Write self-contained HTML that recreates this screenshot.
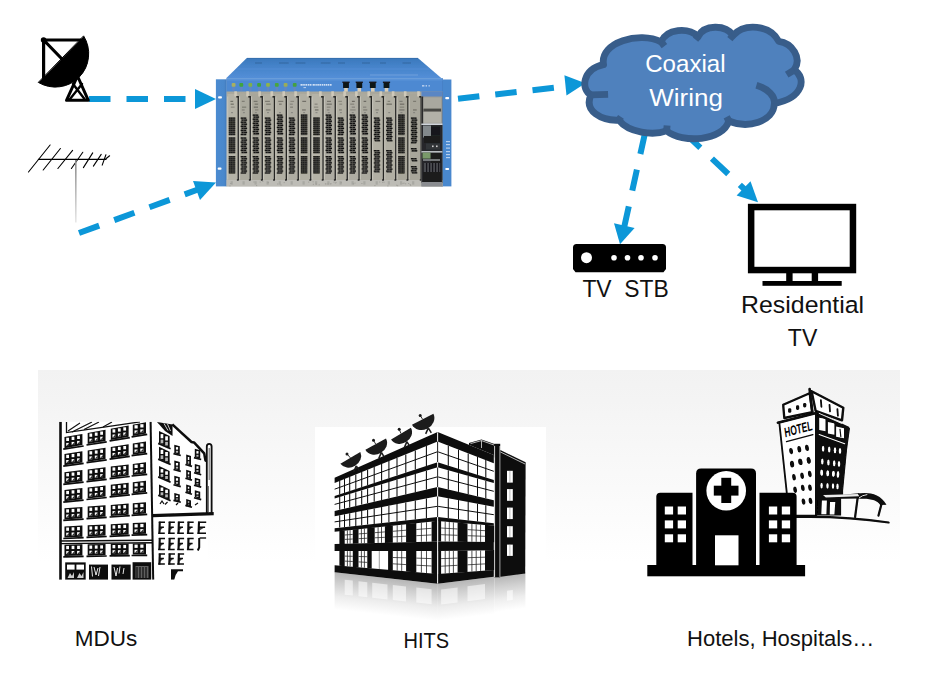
<!DOCTYPE html>
<html lang="en">
<head>
<meta charset="utf-8">
<title>Coaxial Wiring Diagram</title>
<style>
html,body{margin:0;padding:0;background:#fff;}
body{width:932px;height:681px;overflow:hidden;position:relative;font-family:"Liberation Sans",sans-serif;}
svg{position:absolute;left:0;top:0;display:block;}
text{font-family:"Liberation Sans",sans-serif;fill:#111;}
</style>
</head>
<body>
<svg width="932" height="681" viewBox="0 0 932 681">
<defs>
<linearGradient id="panelg" gradientUnits="userSpaceOnUse" x1="0" y1="370" x2="0" y2="562">
<stop offset="0" stop-color="#f2f2f2"/>
<stop offset="1" stop-color="#ffffff"/>
</linearGradient>
<linearGradient id="mastg" x1="0" y1="0" x2="0" y2="1">
<stop offset="0" stop-color="#8a8a8a"/>
<stop offset="1" stop-color="#e8e8e8"/>
</linearGradient>
<filter id="soft" x="-5%" y="-5%" width="110%" height="110%"><feGaussianBlur stdDeviation="0.45"/></filter>
</defs>
<rect x="0" y="0" width="932" height="681" fill="#fff"/>
<rect id="panel" x="38" y="370" width="862" height="311" fill="url(#panelg)"/>
<g id="arrows" stroke="#0c97d8" stroke-width="6" fill="none" stroke-dasharray="21.5 16">
<line x1="89" y1="99" x2="196" y2="99"/>
<line x1="79" y1="233" x2="200" y2="188.8"/>
<line x1="458" y1="98.8" x2="567" y2="86.3"/>
<line x1="645" y1="133.1" x2="624.3" y2="226.6" stroke-dasharray="21.4 16.1"/>
<line x1="684" y1="132.4" x2="744.5" y2="189.2" stroke-dasharray="22.4 15.9"/>
</g>
<g id="heads" fill="#0c97d8">
<polygon points="195,89 216,99 195,109"/>
<polygon points="216,182.5 200,200 193,181"/>
<polygon points="585.4,83.3 566.5,95.5 564.4,75.2"/>
<polygon points="620,244.2 614,223.3 634.6,228"/>
<polygon points="758,202.3 736.6,195.4 750.5,181.2"/>
</g>
<g id="dish" stroke="#000" fill="none" stroke-linecap="round" stroke-linejoin="round">
<path d="M83.8,36.2 A33.4,33.4 0 0 1 38.6,82.6 Z" fill="#000" stroke-width="1"/>
<path d="M43.6,40 H81 M43.6,40 V78 M43.6,40 L61.5,58.5" stroke-width="3.2"/>
<circle cx="43.6" cy="40" r="2.8" fill="#000" stroke="none"/>
<path d="M77.5,76 L66.5,100.3 H88.3 Z" stroke-width="3"/>
<path d="M73,84 L84.5,99 M82,84 L70,99" stroke-width="2.4"/>
</g>
<g id="antenna" stroke="#000" fill="none" stroke-width="1.1" stroke-linecap="round">
<line x1="38.4" y1="159.3" x2="106" y2="159.3" stroke-width="1.2"/>
<line x1="28.5" y1="172" x2="50.1" y2="145"/>
<line x1="43.2" y1="170" x2="60.4" y2="148.5"/>
<line x1="57.9" y1="168.5" x2="72.6" y2="150.4"/>
<line x1="71.4" y1="168.5" x2="82.8" y2="152.3"/>
<line x1="83.4" y1="167.6" x2="92.7" y2="152.9"/>
<line x1="93.4" y1="166.1" x2="101.2" y2="154.4"/>
<line x1="102.2" y1="165.1" x2="105.9" y2="154.8"/>
<line x1="105.9" y1="158.8" x2="109.6" y2="155.8"/>
<rect x="75" y="160" width="1.6" height="62.500" fill="url(#mastg)" stroke="none"/>
</g>
<g id="chassis">
<defs>
<linearGradient id="topg" x1="0" y1="0" x2="0" y2="1"><stop offset="0" stop-color="#3b78bc"/><stop offset="0.35" stop-color="#4482c8"/><stop offset="1" stop-color="#548fd8"/></linearGradient>
<linearGradient id="earg" x1="0" y1="0" x2="1" y2="0"><stop offset="0" stop-color="#4c8bd0"/><stop offset="0.75" stop-color="#4a88cc"/><stop offset="1" stop-color="#3f78b8"/></linearGradient>
<linearGradient id="cardg" x1="0" y1="0" x2="0" y2="1"><stop offset="0" stop-color="#a9a79b"/><stop offset="0.2" stop-color="#b4b2a6"/><stop offset="1" stop-color="#b9b8ae"/></linearGradient>
<filter id="cb" x="-3%" y="-3%" width="106%" height="106%"><feGaussianBlur stdDeviation="0.3"/></filter>
<filter id="cb2" x="-3%" y="-3%" width="106%" height="106%"><feGaussianBlur stdDeviation="0.2"/></filter>
<filter id="cball" x="-3%" y="-3%" width="106%" height="106%"><feGaussianBlur stdDeviation="0.8"/></filter>
</defs>
<g filter="url(#cb2)">
<polygon points="246.8,58.1 417.9,58.1 441.8,78.6 225.9,78.6" fill="url(#topg)"/>
<line x1="247" y1="58.4" x2="418" y2="58.4" stroke="#356fae" stroke-width="1"/>
<rect x="255.0" y="62.2" width="7.0" height="1.6" fill="#33669f" opacity="0.6"/>
<rect x="279.0" y="62.2" width="9.7" height="1.6" fill="#33669f" opacity="0.6"/>
<rect x="295.6" y="62.2" width="9.8" height="1.6" fill="#33669f" opacity="0.6"/>
<rect x="320.8" y="62.2" width="9.7" height="1.6" fill="#33669f" opacity="0.6"/>
<rect x="338.0" y="62.2" width="7.0" height="1.6" fill="#33669f" opacity="0.6"/>
<rect x="362.0" y="62.2" width="8.0" height="1.6" fill="#33669f" opacity="0.6"/>
<rect x="380.0" y="62.2" width="6.0" height="1.6" fill="#33669f" opacity="0.6"/>
<rect x="402.5" y="62.2" width="8.5" height="1.6" fill="#33669f" opacity="0.6"/>
<rect x="237" y="68.5" width="192" height="1" fill="#5c96dc" opacity="0.5"/>
<rect x="370" y="74.6" width="48" height="0.8" fill="#8fb8e8" opacity="0.6"/>
<rect x="215.9" y="79.3" width="10.9" height="107.1" fill="url(#earg)"/>
<rect x="442.5" y="79.5" width="8.9" height="106.9" fill="#4a88ce"/>
<rect x="441.6" y="78.5" width="1.4" height="107.9" fill="#3a70b0"/>
<rect x="226.6" y="78.5" width="216.1" height="13.5" fill="#4d89d2"/>
<rect x="226.6" y="78.5" width="216.1" height="2" fill="#5a93d8"/>
</g>
<rect x="218.1" y="96.3" width="3.8" height="2.2" rx="0.8" fill="#fff"/>
<rect x="217.7" y="167.5" width="3.8" height="2.2" rx="0.8" fill="#fff"/>
<rect x="445.3" y="97.0" width="3.8" height="2.2" rx="0.8" fill="#fff"/>
<rect x="445.3" y="167.9" width="3.8" height="2.2" rx="0.8" fill="#fff"/>
<g fill="#c8dcf4" opacity="0.85">
<rect x="446" y="141" width="4" height="1.2"/>
<rect x="446" y="144" width="4" height="1.2"/>
<rect x="446" y="147.5" width="4" height="1.2"/>
<rect x="446" y="151" width="4" height="1.2"/>
<rect x="446" y="154" width="4" height="1.2"/>
<rect x="446" y="157" width="4" height="1.2"/>
</g>
<g filter="url(#cb2)">
<rect x="231.7" y="83" width="3.8" height="3.8" rx="1" fill="#a8b060"/>
<rect x="232.4" y="87" width="2.4" height="4" fill="#6f86b8" opacity="0.6"/>
<rect x="239.4" y="83" width="3.8" height="3.8" rx="1" fill="#3fa43c"/>
<rect x="240.1" y="87" width="2.4" height="4" fill="#6f86b8" opacity="0.6"/>
<rect x="248.4" y="83" width="3.8" height="3.8" rx="1" fill="#7fb04a"/>
<rect x="249.1" y="87" width="2.4" height="4" fill="#6f86b8" opacity="0.6"/>
<rect x="257.2" y="83" width="3.8" height="3.8" rx="1" fill="#3fa43c"/>
<rect x="257.9" y="87" width="2.4" height="4" fill="#6f86b8" opacity="0.6"/>
<rect x="266.1" y="83" width="3.8" height="3.8" rx="1" fill="#8fb44a"/>
<rect x="266.8" y="87" width="2.4" height="4" fill="#6f86b8" opacity="0.6"/>
<rect x="274.9" y="83" width="3.8" height="3.8" rx="1" fill="#4aa63c"/>
<rect x="275.6" y="87" width="2.4" height="4" fill="#6f86b8" opacity="0.6"/>
<rect x="283.7" y="83" width="3.8" height="3.8" rx="1" fill="#9aac58"/>
<rect x="284.4" y="87" width="2.4" height="4" fill="#6f86b8" opacity="0.6"/>
<rect x="292.8" y="83" width="3.8" height="3.8" rx="1" fill="#44a040"/>
<rect x="293.5" y="87" width="2.4" height="4" fill="#6f86b8" opacity="0.6"/>
<g fill="#e6eefa">
<rect x="300.5" y="84" width="2.2" height="1.7" opacity="0.85"/>
<rect x="303.2" y="84" width="1.6" height="1.7" opacity="0.85"/>
<rect x="305.4" y="84" width="1.8" height="1.7" opacity="0.85"/>
<rect x="307.8" y="84" width="1.2" height="1.7" opacity="0.85"/>
<rect x="309.5" y="84" width="1.6" height="1.7" opacity="0.85"/>
<rect x="311.6" y="84" width="0.8" height="1.7" opacity="0.85"/>
<rect x="313.0" y="84" width="1.8" height="1.7" opacity="0.85"/>
<rect x="315.4" y="84" width="1.4" height="1.7" opacity="0.85"/>
<rect x="317.3" y="84" width="1.6" height="1.7" opacity="0.85"/>
<rect x="319.4" y="84" width="1.8" height="1.7" opacity="0.85"/>
<rect x="321.8" y="84" width="1.2" height="1.7" opacity="0.85"/>
<rect x="323.6" y="84" width="1.6" height="1.7" opacity="0.85"/>
<rect x="325.7" y="84" width="1.4" height="1.7" opacity="0.85"/>
<rect x="327.6" y="84" width="1.8" height="1.7" opacity="0.85"/>
<rect x="330.0" y="84" width="1.6" height="1.7" opacity="0.85"/>
<rect x="303.5" y="87.2" width="2.5" height="0.9" opacity="0.8"/>
<rect x="422" y="85.2" width="2.4" height="1.3" opacity="0.8"/><rect x="425.6" y="85.2" width="1.4" height="1.3" opacity="0.8"/><rect x="428.5" y="85.2" width="1.4" height="1.3" opacity="0.7"/>
</g>
<rect x="342.4" y="81.6" width="7.2" height="1.4" fill="#15181c"/>
<rect x="343.1" y="83" width="5.8" height="5" fill="#101214"/>
<rect x="344.2" y="88" width="3.6" height="6" fill="#d8cdb8"/>
<rect x="355.7" y="81.6" width="7.2" height="1.4" fill="#15181c"/>
<rect x="356.4" y="83" width="5.8" height="5" fill="#101214"/>
<rect x="357.5" y="88" width="3.6" height="6" fill="#d8cdb8"/>
<rect x="369.2" y="81.6" width="7.2" height="1.4" fill="#15181c"/>
<rect x="369.9" y="83" width="5.8" height="5" fill="#101214"/>
<rect x="371.0" y="88" width="3.6" height="6" fill="#d8cdb8"/>
<rect x="382.9" y="81.6" width="7.2" height="1.4" fill="#15181c"/>
<rect x="383.6" y="83" width="5.8" height="5" fill="#101214"/>
<rect x="384.7" y="88" width="3.6" height="6" fill="#d8cdb8"/>
</g>
<g filter="url(#cb)">
<rect x="226.6" y="91.5" width="195.0" height="94.9" fill="url(#cardg)"/>
<rect x="226.6" y="180" width="216.1" height="6.4" fill="#bdbcb6"/>
<rect x="227.4" y="94" width="10.3" height="86" fill="#b5b3a7"/>
<rect x="234.3" y="91.3" width="2.6" height="5.2" fill="#cfc9ba"/>
<rect x="230.6" y="181.2" width="2.2" height="3.4" fill="#a8a8a2"/>
<rect x="239.3" y="94" width="10.4" height="86" fill="#abaa9e"/>
<rect x="246.3" y="91.3" width="2.6" height="5.2" fill="#cfc9ba"/>
<rect x="242.5" y="181.2" width="2.2" height="3.4" fill="#a8a8a2"/>
<rect x="251.3" y="94" width="10.4" height="86" fill="#a8a69a"/>
<rect x="258.3" y="91.3" width="2.6" height="5.2" fill="#cfc9ba"/>
<rect x="254.5" y="181.2" width="2.2" height="3.4" fill="#a8a8a2"/>
<rect x="263.3" y="94" width="10.6" height="86" fill="#b1afa3"/>
<rect x="270.5" y="91.3" width="2.6" height="5.2" fill="#cfc9ba"/>
<rect x="266.5" y="181.2" width="2.2" height="3.4" fill="#a8a8a2"/>
<rect x="275.5" y="94" width="10.3" height="86" fill="#b1afa3"/>
<rect x="282.4" y="91.3" width="2.6" height="5.2" fill="#cfc9ba"/>
<rect x="278.7" y="181.2" width="2.2" height="3.4" fill="#a8a8a2"/>
<rect x="287.4" y="94" width="10.3" height="86" fill="#aeaca2"/>
<rect x="294.3" y="91.3" width="2.6" height="5.2" fill="#cfc9ba"/>
<rect x="290.6" y="181.2" width="2.2" height="3.4" fill="#a8a8a2"/>
<rect x="299.3" y="94" width="10.9" height="86" fill="#b1afa3"/>
<rect x="306.8" y="91.3" width="2.6" height="5.2" fill="#cfc9ba"/>
<rect x="302.5" y="181.2" width="2.2" height="3.4" fill="#a8a8a2"/>
<rect x="311.8" y="94" width="10.7" height="86" fill="#b5b3a7"/>
<rect x="319.1" y="91.3" width="2.6" height="5.2" fill="#cfc9ba"/>
<rect x="315.0" y="181.2" width="2.2" height="3.4" fill="#a8a8a2"/>
<rect x="324.1" y="94" width="10.6" height="86" fill="#aeaca2"/>
<rect x="331.3" y="91.3" width="2.6" height="5.2" fill="#cfc9ba"/>
<rect x="327.3" y="181.2" width="2.2" height="3.4" fill="#a8a8a2"/>
<rect x="336.3" y="94" width="10.4" height="86" fill="#b1afa3"/>
<rect x="343.3" y="91.3" width="2.6" height="5.2" fill="#cfc9ba"/>
<rect x="339.5" y="181.2" width="2.2" height="3.4" fill="#a8a8a2"/>
<rect x="348.3" y="94" width="10.2" height="86" fill="#aeaca2"/>
<rect x="355.1" y="91.3" width="2.6" height="5.2" fill="#cfc9ba"/>
<rect x="351.5" y="181.2" width="2.2" height="3.4" fill="#a8a8a2"/>
<rect x="360.1" y="94" width="10.7" height="86" fill="#abaa9e"/>
<rect x="367.4" y="91.3" width="2.6" height="5.2" fill="#cfc9ba"/>
<rect x="363.3" y="181.2" width="2.2" height="3.4" fill="#a8a8a2"/>
<rect x="372.4" y="94" width="10.5" height="86" fill="#b1afa3"/>
<rect x="379.5" y="91.3" width="2.6" height="5.2" fill="#cfc9ba"/>
<rect x="375.6" y="181.2" width="2.2" height="3.4" fill="#a8a8a2"/>
<rect x="384.5" y="94" width="10.7" height="86" fill="#b1afa3"/>
<rect x="391.8" y="91.3" width="2.6" height="5.2" fill="#cfc9ba"/>
<rect x="387.7" y="181.2" width="2.2" height="3.4" fill="#a8a8a2"/>
<rect x="396.8" y="94" width="10.5" height="86" fill="#a8a69a"/>
<rect x="403.9" y="91.3" width="2.6" height="5.2" fill="#cfc9ba"/>
<rect x="400.0" y="181.2" width="2.2" height="3.4" fill="#a8a8a2"/>
<rect x="408.9" y="94" width="11.7" height="86" fill="#a8a69a"/>
<rect x="417.2" y="91.3" width="2.6" height="5.2" fill="#cfc9ba"/>
<rect x="412.1" y="181.2" width="2.2" height="3.4" fill="#a8a8a2"/>
</g>
<g filter="url(#cb2)">
<rect x="237.6" y="96.5" width="1.3" height="83.5" fill="#262624"/>
<rect x="236.3" y="96" width="2.6" height="1.6" fill="#2a2a28"/>
<rect x="236.9" y="179.3" width="1.8" height="1.4" fill="#222"/>
<rect x="227.2" y="96.5" width="1.0" height="83" fill="#d0cec4" opacity="0.7"/>
<rect x="249.6" y="96.5" width="1.3" height="83.5" fill="#262624"/>
<rect x="248.3" y="96" width="2.6" height="1.6" fill="#2a2a28"/>
<rect x="248.9" y="179.3" width="1.8" height="1.4" fill="#222"/>
<rect x="239.1" y="96.5" width="1.0" height="83" fill="#d0cec4" opacity="0.7"/>
<rect x="261.6" y="96.5" width="1.3" height="83.5" fill="#262624"/>
<rect x="260.3" y="96" width="2.6" height="1.6" fill="#2a2a28"/>
<rect x="260.9" y="179.3" width="1.8" height="1.4" fill="#222"/>
<rect x="251.1" y="96.5" width="1.0" height="83" fill="#d0cec4" opacity="0.7"/>
<rect x="273.8" y="96.5" width="1.3" height="83.5" fill="#262624"/>
<rect x="272.5" y="96" width="2.6" height="1.6" fill="#2a2a28"/>
<rect x="273.1" y="179.3" width="1.8" height="1.4" fill="#222"/>
<rect x="263.1" y="96.5" width="1.0" height="83" fill="#d0cec4" opacity="0.7"/>
<rect x="285.7" y="96.5" width="1.3" height="83.5" fill="#262624"/>
<rect x="284.4" y="96" width="2.6" height="1.6" fill="#2a2a28"/>
<rect x="285.0" y="179.3" width="1.8" height="1.4" fill="#222"/>
<rect x="275.3" y="96.5" width="1.0" height="83" fill="#d0cec4" opacity="0.7"/>
<rect x="297.6" y="96.5" width="1.3" height="83.5" fill="#262624"/>
<rect x="296.3" y="96" width="2.6" height="1.6" fill="#2a2a28"/>
<rect x="296.9" y="179.3" width="1.8" height="1.4" fill="#222"/>
<rect x="287.2" y="96.5" width="1.0" height="83" fill="#d0cec4" opacity="0.7"/>
<rect x="310.1" y="96.5" width="1.3" height="83.5" fill="#262624"/>
<rect x="308.8" y="96" width="2.6" height="1.6" fill="#2a2a28"/>
<rect x="309.4" y="179.3" width="1.8" height="1.4" fill="#222"/>
<rect x="299.1" y="96.5" width="1.0" height="83" fill="#d0cec4" opacity="0.7"/>
<rect x="322.4" y="96.5" width="1.3" height="83.5" fill="#262624"/>
<rect x="321.1" y="96" width="2.6" height="1.6" fill="#2a2a28"/>
<rect x="321.7" y="179.3" width="1.8" height="1.4" fill="#222"/>
<rect x="311.6" y="96.5" width="1.0" height="83" fill="#d0cec4" opacity="0.7"/>
<rect x="334.6" y="96.5" width="1.3" height="83.5" fill="#262624"/>
<rect x="333.3" y="96" width="2.6" height="1.6" fill="#2a2a28"/>
<rect x="333.9" y="179.3" width="1.8" height="1.4" fill="#222"/>
<rect x="323.9" y="96.5" width="1.0" height="83" fill="#d0cec4" opacity="0.7"/>
<rect x="346.6" y="96.5" width="1.3" height="83.5" fill="#262624"/>
<rect x="345.3" y="96" width="2.6" height="1.6" fill="#2a2a28"/>
<rect x="345.9" y="179.3" width="1.8" height="1.4" fill="#222"/>
<rect x="336.1" y="96.5" width="1.0" height="83" fill="#d0cec4" opacity="0.7"/>
<rect x="358.4" y="96.5" width="1.3" height="83.5" fill="#262624"/>
<rect x="357.1" y="96" width="2.6" height="1.6" fill="#2a2a28"/>
<rect x="357.7" y="179.3" width="1.8" height="1.4" fill="#222"/>
<rect x="348.1" y="96.5" width="1.0" height="83" fill="#d0cec4" opacity="0.7"/>
<rect x="370.7" y="96.5" width="1.3" height="83.5" fill="#262624"/>
<rect x="369.4" y="96" width="2.6" height="1.6" fill="#2a2a28"/>
<rect x="370.0" y="179.3" width="1.8" height="1.4" fill="#222"/>
<rect x="359.9" y="96.5" width="1.0" height="83" fill="#d0cec4" opacity="0.7"/>
<rect x="382.8" y="96.5" width="1.3" height="83.5" fill="#262624"/>
<rect x="381.5" y="96" width="2.6" height="1.6" fill="#2a2a28"/>
<rect x="382.1" y="179.3" width="1.8" height="1.4" fill="#222"/>
<rect x="372.2" y="96.5" width="1.0" height="83" fill="#d0cec4" opacity="0.7"/>
<rect x="395.1" y="96.5" width="1.3" height="83.5" fill="#262624"/>
<rect x="393.8" y="96" width="2.6" height="1.6" fill="#2a2a28"/>
<rect x="394.4" y="179.3" width="1.8" height="1.4" fill="#222"/>
<rect x="384.3" y="96.5" width="1.0" height="83" fill="#d0cec4" opacity="0.7"/>
<rect x="407.2" y="96.5" width="1.3" height="83.5" fill="#262624"/>
<rect x="405.9" y="96" width="2.6" height="1.6" fill="#2a2a28"/>
<rect x="406.5" y="179.3" width="1.8" height="1.4" fill="#222"/>
<rect x="396.6" y="96.5" width="1.0" height="83" fill="#d0cec4" opacity="0.7"/>
<rect x="420.5" y="96.5" width="1.3" height="83.5" fill="#262624"/>
<rect x="419.2" y="96" width="2.6" height="1.6" fill="#2a2a28"/>
<rect x="419.8" y="179.3" width="1.8" height="1.4" fill="#222"/>
<rect x="408.7" y="96.5" width="1.0" height="83" fill="#d0cec4" opacity="0.7"/>
</g>
<g filter="url(#cb2)">
<rect x="230.4" y="100.8" width="2.8" height="1.1" fill="#55534c" opacity="0.74"/>
<rect x="230.6" y="103.6" width="3.2" height="1.1" fill="#55534c" opacity="0.78"/>
<rect x="230.9" y="106.6" width="3.7" height="1.1" fill="#55534c" opacity="0.47"/>
<rect x="231.0" y="112" width="2" height="1.2" fill="#666" opacity="0.5"/>
<rect x="228.8" y="117.5" width="6.4" height="1.25" fill="#1c1c1a" opacity="0.93"/>
<rect x="228.8" y="119.5" width="6.4" height="1.25" fill="#1c1c1a" opacity="0.93"/>
<rect x="228.8" y="121.6" width="6.4" height="1.25" fill="#1c1c1a" opacity="0.93"/>
<rect x="228.8" y="123.6" width="6.4" height="1.25" fill="#1c1c1a" opacity="0.93"/>
<rect x="228.8" y="125.7" width="6.4" height="1.25" fill="#1c1c1a" opacity="0.93"/>
<rect x="228.8" y="127.7" width="6.4" height="1.25" fill="#1c1c1a" opacity="0.93"/>
<rect x="228.8" y="129.8" width="6.4" height="1.25" fill="#1c1c1a" opacity="0.93"/>
<rect x="228.8" y="131.8" width="6.4" height="1.25" fill="#1c1c1a" opacity="0.93"/>
<rect x="228.8" y="133.9" width="6.4" height="1.25" fill="#1c1c1a" opacity="0.93"/>
<rect x="230.3" y="117.5" width="0.6" height="17.7" fill="#b4b2a6" opacity="0.55"/>
<rect x="232.0" y="117.5" width="0.6" height="17.7" fill="#b4b2a6" opacity="0.55"/>
<rect x="233.7" y="117.5" width="0.6" height="17.7" fill="#b4b2a6" opacity="0.55"/>
<rect x="228.8" y="117.5" width="6.4" height="17.7" fill="#101010" opacity="0.62"/>
<rect x="228.8" y="137.4" width="6.4" height="1.25" fill="#1c1c1a" opacity="0.93"/>
<rect x="228.8" y="139.5" width="6.4" height="1.25" fill="#1c1c1a" opacity="0.93"/>
<rect x="228.8" y="141.5" width="6.4" height="1.25" fill="#1c1c1a" opacity="0.93"/>
<rect x="228.8" y="143.6" width="6.4" height="1.25" fill="#1c1c1a" opacity="0.93"/>
<rect x="228.8" y="145.6" width="6.4" height="1.25" fill="#1c1c1a" opacity="0.93"/>
<rect x="228.8" y="147.7" width="6.4" height="1.25" fill="#1c1c1a" opacity="0.93"/>
<rect x="228.8" y="149.7" width="6.4" height="1.25" fill="#1c1c1a" opacity="0.93"/>
<rect x="228.8" y="151.8" width="6.4" height="1.25" fill="#1c1c1a" opacity="0.93"/>
<rect x="230.3" y="137.4" width="0.6" height="16.0" fill="#b4b2a6" opacity="0.55"/>
<rect x="232.0" y="137.4" width="0.6" height="16.0" fill="#b4b2a6" opacity="0.55"/>
<rect x="233.7" y="137.4" width="0.6" height="16.0" fill="#b4b2a6" opacity="0.55"/>
<rect x="228.8" y="137.4" width="6.4" height="16.0" fill="#101010" opacity="0.62"/>
<rect x="228.8" y="156.0" width="6.4" height="1.25" fill="#1c1c1a" opacity="0.93"/>
<rect x="228.8" y="158.1" width="6.4" height="1.25" fill="#1c1c1a" opacity="0.93"/>
<rect x="228.8" y="160.1" width="6.4" height="1.25" fill="#1c1c1a" opacity="0.93"/>
<rect x="228.8" y="162.2" width="6.4" height="1.25" fill="#1c1c1a" opacity="0.93"/>
<rect x="228.8" y="164.2" width="6.4" height="1.25" fill="#1c1c1a" opacity="0.93"/>
<rect x="228.8" y="166.3" width="6.4" height="1.25" fill="#1c1c1a" opacity="0.93"/>
<rect x="228.8" y="168.3" width="6.4" height="1.25" fill="#1c1c1a" opacity="0.93"/>
<rect x="228.8" y="170.4" width="6.4" height="1.25" fill="#1c1c1a" opacity="0.93"/>
<rect x="228.8" y="172.4" width="6.4" height="1.25" fill="#1c1c1a" opacity="0.93"/>
<rect x="230.3" y="156.0" width="0.6" height="17.0" fill="#b4b2a6" opacity="0.55"/>
<rect x="232.0" y="156.0" width="0.6" height="17.0" fill="#b4b2a6" opacity="0.55"/>
<rect x="233.7" y="156.0" width="0.6" height="17.0" fill="#b4b2a6" opacity="0.55"/>
<rect x="228.8" y="156.0" width="6.4" height="17.0" fill="#101010" opacity="0.62"/>
<rect x="241.8" y="100.8" width="2.9" height="1.1" fill="#55534c" opacity="0.56"/>
<rect x="242.0" y="106.6" width="4.2" height="1.1" fill="#55534c" opacity="0.58"/>
<rect x="241.9" y="109.4" width="2.7" height="1.1" fill="#55534c" opacity="0.52"/>
<rect x="242.9" y="112" width="2" height="1.2" fill="#666" opacity="0.5"/>
<rect x="240.7" y="117.5" width="5.4" height="1.3" fill="#0c0c0c" opacity="0.95"/>
<rect x="241.7" y="119.5" width="5.4" height="1.3" fill="#0c0c0c" opacity="0.95"/>
<rect x="240.7" y="121.6" width="5.4" height="1.3" fill="#0c0c0c" opacity="0.95"/>
<rect x="241.7" y="123.6" width="5.4" height="1.3" fill="#0c0c0c" opacity="0.95"/>
<rect x="240.7" y="125.7" width="5.4" height="1.3" fill="#0c0c0c" opacity="0.95"/>
<rect x="241.7" y="127.7" width="5.4" height="1.3" fill="#0c0c0c" opacity="0.95"/>
<rect x="240.7" y="129.8" width="5.4" height="1.3" fill="#0c0c0c" opacity="0.95"/>
<rect x="241.7" y="131.8" width="5.4" height="1.3" fill="#0c0c0c" opacity="0.95"/>
<rect x="240.7" y="133.9" width="5.4" height="1.3" fill="#0c0c0c" opacity="0.95"/>
<rect x="243.3" y="117.5" width="0.9" height="17.7" fill="#b4b2a6" opacity="0.5"/>
<rect x="241.2" y="117.5" width="5.4" height="17.7" fill="#101010" opacity="0.4"/>
<rect x="240.7" y="137.4" width="5.4" height="1.3" fill="#0c0c0c" opacity="0.95"/>
<rect x="241.7" y="139.5" width="5.4" height="1.3" fill="#0c0c0c" opacity="0.95"/>
<rect x="240.7" y="141.5" width="5.4" height="1.3" fill="#0c0c0c" opacity="0.95"/>
<rect x="241.7" y="143.6" width="5.4" height="1.3" fill="#0c0c0c" opacity="0.95"/>
<rect x="240.7" y="145.6" width="5.4" height="1.3" fill="#0c0c0c" opacity="0.95"/>
<rect x="241.7" y="147.7" width="5.4" height="1.3" fill="#0c0c0c" opacity="0.95"/>
<rect x="240.7" y="149.7" width="5.4" height="1.3" fill="#0c0c0c" opacity="0.95"/>
<rect x="241.7" y="151.8" width="5.4" height="1.3" fill="#0c0c0c" opacity="0.95"/>
<rect x="243.3" y="137.4" width="0.9" height="16.0" fill="#b4b2a6" opacity="0.5"/>
<rect x="241.2" y="137.4" width="5.4" height="16.0" fill="#101010" opacity="0.4"/>
<rect x="240.7" y="156.0" width="5.4" height="1.3" fill="#0c0c0c" opacity="0.95"/>
<rect x="241.7" y="158.1" width="5.4" height="1.3" fill="#0c0c0c" opacity="0.95"/>
<rect x="240.7" y="160.1" width="5.4" height="1.3" fill="#0c0c0c" opacity="0.95"/>
<rect x="241.7" y="162.2" width="5.4" height="1.3" fill="#0c0c0c" opacity="0.95"/>
<rect x="240.7" y="164.2" width="5.4" height="1.3" fill="#0c0c0c" opacity="0.95"/>
<rect x="241.7" y="166.3" width="5.4" height="1.3" fill="#0c0c0c" opacity="0.95"/>
<rect x="240.7" y="168.3" width="5.4" height="1.3" fill="#0c0c0c" opacity="0.95"/>
<rect x="241.7" y="170.4" width="5.4" height="1.3" fill="#0c0c0c" opacity="0.95"/>
<rect x="240.7" y="172.4" width="5.4" height="1.3" fill="#0c0c0c" opacity="0.95"/>
<rect x="243.3" y="156.0" width="0.9" height="17.0" fill="#b4b2a6" opacity="0.5"/>
<rect x="241.2" y="156.0" width="5.4" height="17.0" fill="#101010" opacity="0.4"/>
<rect x="253.7" y="100.8" width="3.8" height="1.1" fill="#55534c" opacity="0.65"/>
<rect x="254.7" y="103.6" width="3.4" height="1.1" fill="#55534c" opacity="0.69"/>
<rect x="253.8" y="106.6" width="4.2" height="1.1" fill="#55534c" opacity="0.76"/>
<rect x="255.0" y="109.4" width="3.4" height="1.1" fill="#55534c" opacity="0.49"/>
<rect x="254.9" y="112" width="2" height="1.2" fill="#666" opacity="0.5"/>
<rect x="252.7" y="114.5" width="5.4" height="1.3" fill="#0c0c0c" opacity="0.95"/>
<rect x="253.7" y="116.5" width="5.4" height="1.3" fill="#0c0c0c" opacity="0.95"/>
<rect x="252.7" y="118.6" width="5.4" height="1.3" fill="#0c0c0c" opacity="0.95"/>
<rect x="253.7" y="120.6" width="5.4" height="1.3" fill="#0c0c0c" opacity="0.95"/>
<rect x="252.7" y="122.7" width="5.4" height="1.3" fill="#0c0c0c" opacity="0.95"/>
<rect x="253.7" y="124.7" width="5.4" height="1.3" fill="#0c0c0c" opacity="0.95"/>
<rect x="252.7" y="126.8" width="5.4" height="1.3" fill="#0c0c0c" opacity="0.95"/>
<rect x="253.7" y="128.8" width="5.4" height="1.3" fill="#0c0c0c" opacity="0.95"/>
<rect x="252.7" y="130.9" width="5.4" height="1.3" fill="#0c0c0c" opacity="0.95"/>
<rect x="253.7" y="133.0" width="5.4" height="1.3" fill="#0c0c0c" opacity="0.95"/>
<rect x="255.3" y="114.5" width="0.9" height="20.7" fill="#b4b2a6" opacity="0.5"/>
<rect x="253.2" y="114.5" width="5.4" height="20.7" fill="#101010" opacity="0.4"/>
<rect x="252.7" y="137.4" width="5.4" height="1.3" fill="#0c0c0c" opacity="0.95"/>
<rect x="253.7" y="139.5" width="5.4" height="1.3" fill="#0c0c0c" opacity="0.95"/>
<rect x="252.7" y="141.5" width="5.4" height="1.3" fill="#0c0c0c" opacity="0.95"/>
<rect x="253.7" y="143.6" width="5.4" height="1.3" fill="#0c0c0c" opacity="0.95"/>
<rect x="252.7" y="145.6" width="5.4" height="1.3" fill="#0c0c0c" opacity="0.95"/>
<rect x="253.7" y="147.7" width="5.4" height="1.3" fill="#0c0c0c" opacity="0.95"/>
<rect x="252.7" y="149.7" width="5.4" height="1.3" fill="#0c0c0c" opacity="0.95"/>
<rect x="253.7" y="151.8" width="5.4" height="1.3" fill="#0c0c0c" opacity="0.95"/>
<rect x="255.3" y="137.4" width="0.9" height="16.0" fill="#b4b2a6" opacity="0.5"/>
<rect x="253.2" y="137.4" width="5.4" height="16.0" fill="#101010" opacity="0.4"/>
<rect x="252.7" y="156.0" width="5.4" height="1.3" fill="#0c0c0c" opacity="0.95"/>
<rect x="253.7" y="158.1" width="5.4" height="1.3" fill="#0c0c0c" opacity="0.95"/>
<rect x="252.7" y="160.1" width="5.4" height="1.3" fill="#0c0c0c" opacity="0.95"/>
<rect x="253.7" y="162.2" width="5.4" height="1.3" fill="#0c0c0c" opacity="0.95"/>
<rect x="252.7" y="164.2" width="5.4" height="1.3" fill="#0c0c0c" opacity="0.95"/>
<rect x="253.7" y="166.3" width="5.4" height="1.3" fill="#0c0c0c" opacity="0.95"/>
<rect x="252.7" y="168.3" width="5.4" height="1.3" fill="#0c0c0c" opacity="0.95"/>
<rect x="253.7" y="170.4" width="5.4" height="1.3" fill="#0c0c0c" opacity="0.95"/>
<rect x="252.7" y="172.4" width="5.4" height="1.3" fill="#0c0c0c" opacity="0.95"/>
<rect x="255.3" y="156.0" width="0.9" height="17.0" fill="#b4b2a6" opacity="0.5"/>
<rect x="253.2" y="156.0" width="5.4" height="17.0" fill="#101010" opacity="0.4"/>
<rect x="265.1" y="100.8" width="4.8" height="1.1" fill="#55534c" opacity="0.62"/>
<rect x="266.2" y="103.6" width="4.5" height="1.1" fill="#55534c" opacity="0.65"/>
<rect x="265.9" y="109.4" width="4.6" height="1.1" fill="#55534c" opacity="0.65"/>
<rect x="267.0" y="112" width="2" height="1.2" fill="#666" opacity="0.5"/>
<rect x="264.8" y="117.5" width="5.4" height="1.3" fill="#0c0c0c" opacity="0.95"/>
<rect x="265.8" y="119.5" width="5.4" height="1.3" fill="#0c0c0c" opacity="0.95"/>
<rect x="264.8" y="121.6" width="5.4" height="1.3" fill="#0c0c0c" opacity="0.95"/>
<rect x="265.8" y="123.6" width="5.4" height="1.3" fill="#0c0c0c" opacity="0.95"/>
<rect x="264.8" y="125.7" width="5.4" height="1.3" fill="#0c0c0c" opacity="0.95"/>
<rect x="265.8" y="127.7" width="5.4" height="1.3" fill="#0c0c0c" opacity="0.95"/>
<rect x="264.8" y="129.8" width="5.4" height="1.3" fill="#0c0c0c" opacity="0.95"/>
<rect x="265.8" y="131.8" width="5.4" height="1.3" fill="#0c0c0c" opacity="0.95"/>
<rect x="264.8" y="133.9" width="5.4" height="1.3" fill="#0c0c0c" opacity="0.95"/>
<rect x="267.4" y="117.5" width="0.9" height="17.7" fill="#b4b2a6" opacity="0.5"/>
<rect x="265.3" y="117.5" width="5.4" height="17.7" fill="#101010" opacity="0.4"/>
<rect x="264.8" y="137.4" width="5.4" height="1.3" fill="#0c0c0c" opacity="0.95"/>
<rect x="265.8" y="139.5" width="5.4" height="1.3" fill="#0c0c0c" opacity="0.95"/>
<rect x="264.8" y="141.5" width="5.4" height="1.3" fill="#0c0c0c" opacity="0.95"/>
<rect x="265.8" y="143.6" width="5.4" height="1.3" fill="#0c0c0c" opacity="0.95"/>
<rect x="264.8" y="145.6" width="5.4" height="1.3" fill="#0c0c0c" opacity="0.95"/>
<rect x="265.8" y="147.7" width="5.4" height="1.3" fill="#0c0c0c" opacity="0.95"/>
<rect x="264.8" y="149.7" width="5.4" height="1.3" fill="#0c0c0c" opacity="0.95"/>
<rect x="265.8" y="151.8" width="5.4" height="1.3" fill="#0c0c0c" opacity="0.95"/>
<rect x="267.4" y="137.4" width="0.9" height="16.0" fill="#b4b2a6" opacity="0.5"/>
<rect x="265.3" y="137.4" width="5.4" height="16.0" fill="#101010" opacity="0.4"/>
<rect x="264.8" y="156.0" width="5.4" height="1.3" fill="#0c0c0c" opacity="0.95"/>
<rect x="265.8" y="158.1" width="5.4" height="1.3" fill="#0c0c0c" opacity="0.95"/>
<rect x="264.8" y="160.1" width="5.4" height="1.3" fill="#0c0c0c" opacity="0.95"/>
<rect x="265.8" y="162.2" width="5.4" height="1.3" fill="#0c0c0c" opacity="0.95"/>
<rect x="264.8" y="164.2" width="5.4" height="1.3" fill="#0c0c0c" opacity="0.95"/>
<rect x="265.8" y="166.3" width="5.4" height="1.3" fill="#0c0c0c" opacity="0.95"/>
<rect x="264.8" y="168.3" width="5.4" height="1.3" fill="#0c0c0c" opacity="0.95"/>
<rect x="265.8" y="170.4" width="5.4" height="1.3" fill="#0c0c0c" opacity="0.95"/>
<rect x="264.8" y="172.4" width="5.4" height="1.3" fill="#0c0c0c" opacity="0.95"/>
<rect x="267.4" y="156.0" width="0.9" height="17.0" fill="#b4b2a6" opacity="0.5"/>
<rect x="265.3" y="156.0" width="5.4" height="17.0" fill="#101010" opacity="0.4"/>
<rect x="278.3" y="100.8" width="5.0" height="1.1" fill="#55534c" opacity="0.62"/>
<rect x="279.0" y="103.6" width="2.7" height="1.1" fill="#55534c" opacity="0.68"/>
<rect x="279.0" y="112" width="2" height="1.2" fill="#666" opacity="0.5"/>
<rect x="276.8" y="114.5" width="5.4" height="1.3" fill="#0c0c0c" opacity="0.95"/>
<rect x="277.8" y="116.5" width="5.4" height="1.3" fill="#0c0c0c" opacity="0.95"/>
<rect x="276.8" y="118.6" width="5.4" height="1.3" fill="#0c0c0c" opacity="0.95"/>
<rect x="277.8" y="120.6" width="5.4" height="1.3" fill="#0c0c0c" opacity="0.95"/>
<rect x="276.8" y="122.7" width="5.4" height="1.3" fill="#0c0c0c" opacity="0.95"/>
<rect x="277.8" y="124.7" width="5.4" height="1.3" fill="#0c0c0c" opacity="0.95"/>
<rect x="276.8" y="126.8" width="5.4" height="1.3" fill="#0c0c0c" opacity="0.95"/>
<rect x="277.8" y="128.8" width="5.4" height="1.3" fill="#0c0c0c" opacity="0.95"/>
<rect x="276.8" y="130.9" width="5.4" height="1.3" fill="#0c0c0c" opacity="0.95"/>
<rect x="277.8" y="133.0" width="5.4" height="1.3" fill="#0c0c0c" opacity="0.95"/>
<rect x="279.4" y="114.5" width="0.9" height="20.7" fill="#b4b2a6" opacity="0.5"/>
<rect x="277.3" y="114.5" width="5.4" height="20.7" fill="#101010" opacity="0.4"/>
<rect x="276.8" y="137.4" width="5.4" height="1.3" fill="#0c0c0c" opacity="0.95"/>
<rect x="277.8" y="139.5" width="5.4" height="1.3" fill="#0c0c0c" opacity="0.95"/>
<rect x="276.8" y="141.5" width="5.4" height="1.3" fill="#0c0c0c" opacity="0.95"/>
<rect x="277.8" y="143.6" width="5.4" height="1.3" fill="#0c0c0c" opacity="0.95"/>
<rect x="276.8" y="145.6" width="5.4" height="1.3" fill="#0c0c0c" opacity="0.95"/>
<rect x="277.8" y="147.7" width="5.4" height="1.3" fill="#0c0c0c" opacity="0.95"/>
<rect x="276.8" y="149.7" width="5.4" height="1.3" fill="#0c0c0c" opacity="0.95"/>
<rect x="277.8" y="151.8" width="5.4" height="1.3" fill="#0c0c0c" opacity="0.95"/>
<rect x="279.4" y="137.4" width="0.9" height="16.0" fill="#b4b2a6" opacity="0.5"/>
<rect x="277.3" y="137.4" width="5.4" height="16.0" fill="#101010" opacity="0.4"/>
<rect x="276.8" y="156.0" width="5.4" height="1.3" fill="#0c0c0c" opacity="0.95"/>
<rect x="277.8" y="158.1" width="5.4" height="1.3" fill="#0c0c0c" opacity="0.95"/>
<rect x="276.8" y="160.1" width="5.4" height="1.3" fill="#0c0c0c" opacity="0.95"/>
<rect x="277.8" y="162.2" width="5.4" height="1.3" fill="#0c0c0c" opacity="0.95"/>
<rect x="276.8" y="164.2" width="5.4" height="1.3" fill="#0c0c0c" opacity="0.95"/>
<rect x="277.8" y="166.3" width="5.4" height="1.3" fill="#0c0c0c" opacity="0.95"/>
<rect x="276.8" y="168.3" width="5.4" height="1.3" fill="#0c0c0c" opacity="0.95"/>
<rect x="277.8" y="170.4" width="5.4" height="1.3" fill="#0c0c0c" opacity="0.95"/>
<rect x="276.8" y="172.4" width="5.4" height="1.3" fill="#0c0c0c" opacity="0.95"/>
<rect x="279.4" y="156.0" width="0.9" height="17.0" fill="#b4b2a6" opacity="0.5"/>
<rect x="277.3" y="156.0" width="5.4" height="17.0" fill="#101010" opacity="0.4"/>
<rect x="290.4" y="100.8" width="3.7" height="1.1" fill="#55534c" opacity="0.46"/>
<rect x="289.8" y="103.6" width="3.0" height="1.1" fill="#55534c" opacity="0.47"/>
<rect x="290.1" y="106.6" width="2.9" height="1.1" fill="#55534c" opacity="0.59"/>
<rect x="290.9" y="112" width="2" height="1.2" fill="#666" opacity="0.5"/>
<rect x="288.8" y="117.5" width="5.4" height="1.3" fill="#0c0c0c" opacity="0.95"/>
<rect x="289.8" y="119.5" width="5.4" height="1.3" fill="#0c0c0c" opacity="0.95"/>
<rect x="288.8" y="121.6" width="5.4" height="1.3" fill="#0c0c0c" opacity="0.95"/>
<rect x="289.8" y="123.6" width="5.4" height="1.3" fill="#0c0c0c" opacity="0.95"/>
<rect x="288.8" y="125.7" width="5.4" height="1.3" fill="#0c0c0c" opacity="0.95"/>
<rect x="289.8" y="127.7" width="5.4" height="1.3" fill="#0c0c0c" opacity="0.95"/>
<rect x="288.8" y="129.8" width="5.4" height="1.3" fill="#0c0c0c" opacity="0.95"/>
<rect x="289.8" y="131.8" width="5.4" height="1.3" fill="#0c0c0c" opacity="0.95"/>
<rect x="288.8" y="133.9" width="5.4" height="1.3" fill="#0c0c0c" opacity="0.95"/>
<rect x="291.4" y="117.5" width="0.9" height="17.7" fill="#b4b2a6" opacity="0.5"/>
<rect x="289.2" y="117.5" width="5.4" height="17.7" fill="#101010" opacity="0.4"/>
<rect x="288.8" y="137.4" width="5.4" height="1.3" fill="#0c0c0c" opacity="0.95"/>
<rect x="289.8" y="139.5" width="5.4" height="1.3" fill="#0c0c0c" opacity="0.95"/>
<rect x="288.8" y="141.5" width="5.4" height="1.3" fill="#0c0c0c" opacity="0.95"/>
<rect x="289.8" y="143.6" width="5.4" height="1.3" fill="#0c0c0c" opacity="0.95"/>
<rect x="288.8" y="145.6" width="5.4" height="1.3" fill="#0c0c0c" opacity="0.95"/>
<rect x="289.8" y="147.7" width="5.4" height="1.3" fill="#0c0c0c" opacity="0.95"/>
<rect x="288.8" y="149.7" width="5.4" height="1.3" fill="#0c0c0c" opacity="0.95"/>
<rect x="289.8" y="151.8" width="5.4" height="1.3" fill="#0c0c0c" opacity="0.95"/>
<rect x="291.4" y="137.4" width="0.9" height="16.0" fill="#b4b2a6" opacity="0.5"/>
<rect x="289.2" y="137.4" width="5.4" height="16.0" fill="#101010" opacity="0.4"/>
<rect x="288.8" y="156.0" width="5.4" height="1.3" fill="#0c0c0c" opacity="0.95"/>
<rect x="289.8" y="158.1" width="5.4" height="1.3" fill="#0c0c0c" opacity="0.95"/>
<rect x="288.8" y="160.1" width="5.4" height="1.3" fill="#0c0c0c" opacity="0.95"/>
<rect x="289.8" y="162.2" width="5.4" height="1.3" fill="#0c0c0c" opacity="0.95"/>
<rect x="288.8" y="164.2" width="5.4" height="1.3" fill="#0c0c0c" opacity="0.95"/>
<rect x="289.8" y="166.3" width="5.4" height="1.3" fill="#0c0c0c" opacity="0.95"/>
<rect x="288.8" y="168.3" width="5.4" height="1.3" fill="#0c0c0c" opacity="0.95"/>
<rect x="289.8" y="170.4" width="5.4" height="1.3" fill="#0c0c0c" opacity="0.95"/>
<rect x="288.8" y="172.4" width="5.4" height="1.3" fill="#0c0c0c" opacity="0.95"/>
<rect x="291.4" y="156.0" width="0.9" height="17.0" fill="#b4b2a6" opacity="0.5"/>
<rect x="289.2" y="156.0" width="5.4" height="17.0" fill="#101010" opacity="0.4"/>
<rect x="302.3" y="100.8" width="3.8" height="1.1" fill="#55534c" opacity="0.76"/>
<rect x="302.1" y="109.4" width="3.7" height="1.1" fill="#55534c" opacity="0.76"/>
<rect x="303.1" y="112" width="2" height="1.2" fill="#666" opacity="0.5"/>
<rect x="300.9" y="114.5" width="6.4" height="1.25" fill="#1c1c1a" opacity="0.93"/>
<rect x="300.9" y="116.5" width="6.4" height="1.25" fill="#1c1c1a" opacity="0.93"/>
<rect x="300.9" y="118.6" width="6.4" height="1.25" fill="#1c1c1a" opacity="0.93"/>
<rect x="300.9" y="120.6" width="6.4" height="1.25" fill="#1c1c1a" opacity="0.93"/>
<rect x="300.9" y="122.7" width="6.4" height="1.25" fill="#1c1c1a" opacity="0.93"/>
<rect x="300.9" y="124.7" width="6.4" height="1.25" fill="#1c1c1a" opacity="0.93"/>
<rect x="300.9" y="126.8" width="6.4" height="1.25" fill="#1c1c1a" opacity="0.93"/>
<rect x="300.9" y="128.8" width="6.4" height="1.25" fill="#1c1c1a" opacity="0.93"/>
<rect x="300.9" y="130.9" width="6.4" height="1.25" fill="#1c1c1a" opacity="0.93"/>
<rect x="300.9" y="133.0" width="6.4" height="1.25" fill="#1c1c1a" opacity="0.93"/>
<rect x="302.4" y="114.5" width="0.6" height="20.7" fill="#b4b2a6" opacity="0.55"/>
<rect x="304.1" y="114.5" width="0.6" height="20.7" fill="#b4b2a6" opacity="0.55"/>
<rect x="305.8" y="114.5" width="0.6" height="20.7" fill="#b4b2a6" opacity="0.55"/>
<rect x="300.9" y="114.5" width="6.4" height="20.7" fill="#101010" opacity="0.62"/>
<rect x="300.9" y="137.4" width="6.4" height="1.25" fill="#1c1c1a" opacity="0.93"/>
<rect x="300.9" y="139.5" width="6.4" height="1.25" fill="#1c1c1a" opacity="0.93"/>
<rect x="300.9" y="141.5" width="6.4" height="1.25" fill="#1c1c1a" opacity="0.93"/>
<rect x="300.9" y="143.6" width="6.4" height="1.25" fill="#1c1c1a" opacity="0.93"/>
<rect x="300.9" y="145.6" width="6.4" height="1.25" fill="#1c1c1a" opacity="0.93"/>
<rect x="300.9" y="147.7" width="6.4" height="1.25" fill="#1c1c1a" opacity="0.93"/>
<rect x="300.9" y="149.7" width="6.4" height="1.25" fill="#1c1c1a" opacity="0.93"/>
<rect x="300.9" y="151.8" width="6.4" height="1.25" fill="#1c1c1a" opacity="0.93"/>
<rect x="302.4" y="137.4" width="0.6" height="16.0" fill="#b4b2a6" opacity="0.55"/>
<rect x="304.1" y="137.4" width="0.6" height="16.0" fill="#b4b2a6" opacity="0.55"/>
<rect x="305.8" y="137.4" width="0.6" height="16.0" fill="#b4b2a6" opacity="0.55"/>
<rect x="300.9" y="137.4" width="6.4" height="16.0" fill="#101010" opacity="0.62"/>
<rect x="300.9" y="156.0" width="6.4" height="1.25" fill="#1c1c1a" opacity="0.93"/>
<rect x="300.9" y="158.1" width="6.4" height="1.25" fill="#1c1c1a" opacity="0.93"/>
<rect x="300.9" y="160.1" width="6.4" height="1.25" fill="#1c1c1a" opacity="0.93"/>
<rect x="300.9" y="162.2" width="6.4" height="1.25" fill="#1c1c1a" opacity="0.93"/>
<rect x="300.9" y="164.2" width="6.4" height="1.25" fill="#1c1c1a" opacity="0.93"/>
<rect x="300.9" y="166.3" width="6.4" height="1.25" fill="#1c1c1a" opacity="0.93"/>
<rect x="300.9" y="168.3" width="6.4" height="1.25" fill="#1c1c1a" opacity="0.93"/>
<rect x="300.9" y="170.4" width="6.4" height="1.25" fill="#1c1c1a" opacity="0.93"/>
<rect x="300.9" y="172.4" width="6.4" height="1.25" fill="#1c1c1a" opacity="0.93"/>
<rect x="302.4" y="156.0" width="0.6" height="17.0" fill="#b4b2a6" opacity="0.55"/>
<rect x="304.1" y="156.0" width="0.6" height="17.0" fill="#b4b2a6" opacity="0.55"/>
<rect x="305.8" y="156.0" width="0.6" height="17.0" fill="#b4b2a6" opacity="0.55"/>
<rect x="300.9" y="156.0" width="6.4" height="17.0" fill="#101010" opacity="0.62"/>
<rect x="314.6" y="103.6" width="3.0" height="1.1" fill="#55534c" opacity="0.53"/>
<rect x="314.0" y="106.6" width="4.3" height="1.1" fill="#55534c" opacity="0.45"/>
<rect x="314.9" y="109.4" width="3.6" height="1.1" fill="#55534c" opacity="0.78"/>
<rect x="315.5" y="112" width="2" height="1.2" fill="#666" opacity="0.5"/>
<rect x="313.3" y="117.5" width="6.4" height="1.25" fill="#1c1c1a" opacity="0.93"/>
<rect x="313.3" y="119.5" width="6.4" height="1.25" fill="#1c1c1a" opacity="0.93"/>
<rect x="313.3" y="121.6" width="6.4" height="1.25" fill="#1c1c1a" opacity="0.93"/>
<rect x="313.3" y="123.6" width="6.4" height="1.25" fill="#1c1c1a" opacity="0.93"/>
<rect x="313.3" y="125.7" width="6.4" height="1.25" fill="#1c1c1a" opacity="0.93"/>
<rect x="313.3" y="127.7" width="6.4" height="1.25" fill="#1c1c1a" opacity="0.93"/>
<rect x="313.3" y="129.8" width="6.4" height="1.25" fill="#1c1c1a" opacity="0.93"/>
<rect x="313.3" y="131.8" width="6.4" height="1.25" fill="#1c1c1a" opacity="0.93"/>
<rect x="313.3" y="133.9" width="6.4" height="1.25" fill="#1c1c1a" opacity="0.93"/>
<rect x="314.8" y="117.5" width="0.6" height="17.7" fill="#b4b2a6" opacity="0.55"/>
<rect x="316.5" y="117.5" width="0.6" height="17.7" fill="#b4b2a6" opacity="0.55"/>
<rect x="318.2" y="117.5" width="0.6" height="17.7" fill="#b4b2a6" opacity="0.55"/>
<rect x="313.3" y="117.5" width="6.4" height="17.7" fill="#101010" opacity="0.62"/>
<rect x="313.3" y="137.4" width="6.4" height="1.25" fill="#1c1c1a" opacity="0.93"/>
<rect x="313.3" y="139.5" width="6.4" height="1.25" fill="#1c1c1a" opacity="0.93"/>
<rect x="313.3" y="141.5" width="6.4" height="1.25" fill="#1c1c1a" opacity="0.93"/>
<rect x="313.3" y="143.6" width="6.4" height="1.25" fill="#1c1c1a" opacity="0.93"/>
<rect x="313.3" y="145.6" width="6.4" height="1.25" fill="#1c1c1a" opacity="0.93"/>
<rect x="313.3" y="147.7" width="6.4" height="1.25" fill="#1c1c1a" opacity="0.93"/>
<rect x="313.3" y="149.7" width="6.4" height="1.25" fill="#1c1c1a" opacity="0.93"/>
<rect x="313.3" y="151.8" width="6.4" height="1.25" fill="#1c1c1a" opacity="0.93"/>
<rect x="314.8" y="137.4" width="0.6" height="16.0" fill="#b4b2a6" opacity="0.55"/>
<rect x="316.5" y="137.4" width="0.6" height="16.0" fill="#b4b2a6" opacity="0.55"/>
<rect x="318.2" y="137.4" width="0.6" height="16.0" fill="#b4b2a6" opacity="0.55"/>
<rect x="313.3" y="137.4" width="6.4" height="16.0" fill="#101010" opacity="0.62"/>
<rect x="313.3" y="156.0" width="6.4" height="1.25" fill="#1c1c1a" opacity="0.93"/>
<rect x="313.3" y="158.1" width="6.4" height="1.25" fill="#1c1c1a" opacity="0.93"/>
<rect x="313.3" y="160.1" width="6.4" height="1.25" fill="#1c1c1a" opacity="0.93"/>
<rect x="313.3" y="162.2" width="6.4" height="1.25" fill="#1c1c1a" opacity="0.93"/>
<rect x="313.3" y="164.2" width="6.4" height="1.25" fill="#1c1c1a" opacity="0.93"/>
<rect x="313.3" y="166.3" width="6.4" height="1.25" fill="#1c1c1a" opacity="0.93"/>
<rect x="313.3" y="168.3" width="6.4" height="1.25" fill="#1c1c1a" opacity="0.93"/>
<rect x="313.3" y="170.4" width="6.4" height="1.25" fill="#1c1c1a" opacity="0.93"/>
<rect x="313.3" y="172.4" width="6.4" height="1.25" fill="#1c1c1a" opacity="0.93"/>
<rect x="314.8" y="156.0" width="0.6" height="17.0" fill="#b4b2a6" opacity="0.55"/>
<rect x="316.5" y="156.0" width="0.6" height="17.0" fill="#b4b2a6" opacity="0.55"/>
<rect x="318.2" y="156.0" width="0.6" height="17.0" fill="#b4b2a6" opacity="0.55"/>
<rect x="313.3" y="156.0" width="6.4" height="17.0" fill="#101010" opacity="0.62"/>
<rect x="327.0" y="100.8" width="4.0" height="1.1" fill="#55534c" opacity="0.69"/>
<rect x="326.6" y="103.6" width="5.2" height="1.1" fill="#55534c" opacity="0.76"/>
<rect x="326.8" y="106.6" width="3.7" height="1.1" fill="#55534c" opacity="0.49"/>
<rect x="326.8" y="109.4" width="2.7" height="1.1" fill="#55534c" opacity="0.52"/>
<rect x="327.8" y="112" width="2" height="1.2" fill="#666" opacity="0.5"/>
<rect x="325.6" y="114.5" width="5.4" height="1.3" fill="#0c0c0c" opacity="0.95"/>
<rect x="326.6" y="116.5" width="5.4" height="1.3" fill="#0c0c0c" opacity="0.95"/>
<rect x="325.6" y="118.6" width="5.4" height="1.3" fill="#0c0c0c" opacity="0.95"/>
<rect x="326.6" y="120.6" width="5.4" height="1.3" fill="#0c0c0c" opacity="0.95"/>
<rect x="325.6" y="122.7" width="5.4" height="1.3" fill="#0c0c0c" opacity="0.95"/>
<rect x="326.6" y="124.7" width="5.4" height="1.3" fill="#0c0c0c" opacity="0.95"/>
<rect x="325.6" y="126.8" width="5.4" height="1.3" fill="#0c0c0c" opacity="0.95"/>
<rect x="326.6" y="128.8" width="5.4" height="1.3" fill="#0c0c0c" opacity="0.95"/>
<rect x="325.6" y="130.9" width="5.4" height="1.3" fill="#0c0c0c" opacity="0.95"/>
<rect x="326.6" y="133.0" width="5.4" height="1.3" fill="#0c0c0c" opacity="0.95"/>
<rect x="328.2" y="114.5" width="0.9" height="20.7" fill="#b4b2a6" opacity="0.5"/>
<rect x="326.1" y="114.5" width="5.4" height="20.7" fill="#101010" opacity="0.4"/>
<rect x="325.6" y="137.4" width="5.4" height="1.3" fill="#0c0c0c" opacity="0.95"/>
<rect x="326.6" y="139.5" width="5.4" height="1.3" fill="#0c0c0c" opacity="0.95"/>
<rect x="325.6" y="141.5" width="5.4" height="1.3" fill="#0c0c0c" opacity="0.95"/>
<rect x="326.6" y="143.6" width="5.4" height="1.3" fill="#0c0c0c" opacity="0.95"/>
<rect x="325.6" y="145.6" width="5.4" height="1.3" fill="#0c0c0c" opacity="0.95"/>
<rect x="326.6" y="147.7" width="5.4" height="1.3" fill="#0c0c0c" opacity="0.95"/>
<rect x="325.6" y="149.7" width="5.4" height="1.3" fill="#0c0c0c" opacity="0.95"/>
<rect x="326.6" y="151.8" width="5.4" height="1.3" fill="#0c0c0c" opacity="0.95"/>
<rect x="328.2" y="137.4" width="0.9" height="16.0" fill="#b4b2a6" opacity="0.5"/>
<rect x="326.1" y="137.4" width="5.4" height="16.0" fill="#101010" opacity="0.4"/>
<rect x="325.6" y="156.0" width="5.4" height="1.3" fill="#0c0c0c" opacity="0.95"/>
<rect x="326.6" y="158.1" width="5.4" height="1.3" fill="#0c0c0c" opacity="0.95"/>
<rect x="325.6" y="160.1" width="5.4" height="1.3" fill="#0c0c0c" opacity="0.95"/>
<rect x="326.6" y="162.2" width="5.4" height="1.3" fill="#0c0c0c" opacity="0.95"/>
<rect x="325.6" y="164.2" width="5.4" height="1.3" fill="#0c0c0c" opacity="0.95"/>
<rect x="326.6" y="166.3" width="5.4" height="1.3" fill="#0c0c0c" opacity="0.95"/>
<rect x="325.6" y="168.3" width="5.4" height="1.3" fill="#0c0c0c" opacity="0.95"/>
<rect x="326.6" y="170.4" width="5.4" height="1.3" fill="#0c0c0c" opacity="0.95"/>
<rect x="325.6" y="172.4" width="5.4" height="1.3" fill="#0c0c0c" opacity="0.95"/>
<rect x="328.2" y="156.0" width="0.9" height="17.0" fill="#b4b2a6" opacity="0.5"/>
<rect x="326.1" y="156.0" width="5.4" height="17.0" fill="#101010" opacity="0.4"/>
<rect x="338.4" y="100.8" width="3.5" height="1.1" fill="#55534c" opacity="0.45"/>
<rect x="339.3" y="103.6" width="2.8" height="1.1" fill="#55534c" opacity="0.46"/>
<rect x="339.0" y="109.4" width="2.9" height="1.1" fill="#55534c" opacity="0.57"/>
<rect x="339.9" y="112" width="2" height="1.2" fill="#666" opacity="0.5"/>
<rect x="337.7" y="117.5" width="5.4" height="1.3" fill="#0c0c0c" opacity="0.95"/>
<rect x="338.7" y="119.5" width="5.4" height="1.3" fill="#0c0c0c" opacity="0.95"/>
<rect x="337.7" y="121.6" width="5.4" height="1.3" fill="#0c0c0c" opacity="0.95"/>
<rect x="338.7" y="123.6" width="5.4" height="1.3" fill="#0c0c0c" opacity="0.95"/>
<rect x="337.7" y="125.7" width="5.4" height="1.3" fill="#0c0c0c" opacity="0.95"/>
<rect x="338.7" y="127.7" width="5.4" height="1.3" fill="#0c0c0c" opacity="0.95"/>
<rect x="337.7" y="129.8" width="5.4" height="1.3" fill="#0c0c0c" opacity="0.95"/>
<rect x="338.7" y="131.8" width="5.4" height="1.3" fill="#0c0c0c" opacity="0.95"/>
<rect x="337.7" y="133.9" width="5.4" height="1.3" fill="#0c0c0c" opacity="0.95"/>
<rect x="340.3" y="117.5" width="0.9" height="17.7" fill="#b4b2a6" opacity="0.5"/>
<rect x="338.2" y="117.5" width="5.4" height="17.7" fill="#101010" opacity="0.4"/>
<rect x="337.7" y="137.4" width="5.4" height="1.3" fill="#0c0c0c" opacity="0.95"/>
<rect x="338.7" y="139.5" width="5.4" height="1.3" fill="#0c0c0c" opacity="0.95"/>
<rect x="337.7" y="141.5" width="5.4" height="1.3" fill="#0c0c0c" opacity="0.95"/>
<rect x="338.7" y="143.6" width="5.4" height="1.3" fill="#0c0c0c" opacity="0.95"/>
<rect x="337.7" y="145.6" width="5.4" height="1.3" fill="#0c0c0c" opacity="0.95"/>
<rect x="338.7" y="147.7" width="5.4" height="1.3" fill="#0c0c0c" opacity="0.95"/>
<rect x="337.7" y="149.7" width="5.4" height="1.3" fill="#0c0c0c" opacity="0.95"/>
<rect x="338.7" y="151.8" width="5.4" height="1.3" fill="#0c0c0c" opacity="0.95"/>
<rect x="340.3" y="137.4" width="0.9" height="16.0" fill="#b4b2a6" opacity="0.5"/>
<rect x="338.2" y="137.4" width="5.4" height="16.0" fill="#101010" opacity="0.4"/>
<rect x="337.7" y="156.0" width="5.4" height="1.3" fill="#0c0c0c" opacity="0.95"/>
<rect x="338.7" y="158.1" width="5.4" height="1.3" fill="#0c0c0c" opacity="0.95"/>
<rect x="337.7" y="160.1" width="5.4" height="1.3" fill="#0c0c0c" opacity="0.95"/>
<rect x="338.7" y="162.2" width="5.4" height="1.3" fill="#0c0c0c" opacity="0.95"/>
<rect x="337.7" y="164.2" width="5.4" height="1.3" fill="#0c0c0c" opacity="0.95"/>
<rect x="338.7" y="166.3" width="5.4" height="1.3" fill="#0c0c0c" opacity="0.95"/>
<rect x="337.7" y="168.3" width="5.4" height="1.3" fill="#0c0c0c" opacity="0.95"/>
<rect x="338.7" y="170.4" width="5.4" height="1.3" fill="#0c0c0c" opacity="0.95"/>
<rect x="337.7" y="172.4" width="5.4" height="1.3" fill="#0c0c0c" opacity="0.95"/>
<rect x="340.3" y="156.0" width="0.9" height="17.0" fill="#b4b2a6" opacity="0.5"/>
<rect x="338.2" y="156.0" width="5.4" height="17.0" fill="#101010" opacity="0.4"/>
<rect x="351.9" y="100.8" width="2.9" height="1.1" fill="#55534c" opacity="0.80"/>
<rect x="350.2" y="103.6" width="4.0" height="1.1" fill="#55534c" opacity="0.49"/>
<rect x="351.7" y="106.6" width="3.3" height="1.1" fill="#55534c" opacity="0.51"/>
<rect x="350.2" y="109.4" width="5.4" height="1.1" fill="#55534c" opacity="0.50"/>
<rect x="351.8" y="112" width="2" height="1.2" fill="#666" opacity="0.5"/>
<rect x="349.6" y="114.5" width="5.4" height="1.3" fill="#0c0c0c" opacity="0.95"/>
<rect x="350.6" y="116.5" width="5.4" height="1.3" fill="#0c0c0c" opacity="0.95"/>
<rect x="349.6" y="118.6" width="5.4" height="1.3" fill="#0c0c0c" opacity="0.95"/>
<rect x="350.6" y="120.6" width="5.4" height="1.3" fill="#0c0c0c" opacity="0.95"/>
<rect x="349.6" y="122.7" width="5.4" height="1.3" fill="#0c0c0c" opacity="0.95"/>
<rect x="350.6" y="124.7" width="5.4" height="1.3" fill="#0c0c0c" opacity="0.95"/>
<rect x="349.6" y="126.8" width="5.4" height="1.3" fill="#0c0c0c" opacity="0.95"/>
<rect x="350.6" y="128.8" width="5.4" height="1.3" fill="#0c0c0c" opacity="0.95"/>
<rect x="349.6" y="130.9" width="5.4" height="1.3" fill="#0c0c0c" opacity="0.95"/>
<rect x="350.6" y="133.0" width="5.4" height="1.3" fill="#0c0c0c" opacity="0.95"/>
<rect x="352.2" y="114.5" width="0.9" height="20.7" fill="#b4b2a6" opacity="0.5"/>
<rect x="350.1" y="114.5" width="5.4" height="20.7" fill="#101010" opacity="0.4"/>
<rect x="349.6" y="137.4" width="5.4" height="1.3" fill="#0c0c0c" opacity="0.95"/>
<rect x="350.6" y="139.5" width="5.4" height="1.3" fill="#0c0c0c" opacity="0.95"/>
<rect x="349.6" y="141.5" width="5.4" height="1.3" fill="#0c0c0c" opacity="0.95"/>
<rect x="350.6" y="143.6" width="5.4" height="1.3" fill="#0c0c0c" opacity="0.95"/>
<rect x="349.6" y="145.6" width="5.4" height="1.3" fill="#0c0c0c" opacity="0.95"/>
<rect x="350.6" y="147.7" width="5.4" height="1.3" fill="#0c0c0c" opacity="0.95"/>
<rect x="349.6" y="149.7" width="5.4" height="1.3" fill="#0c0c0c" opacity="0.95"/>
<rect x="350.6" y="151.8" width="5.4" height="1.3" fill="#0c0c0c" opacity="0.95"/>
<rect x="352.2" y="137.4" width="0.9" height="16.0" fill="#b4b2a6" opacity="0.5"/>
<rect x="350.1" y="137.4" width="5.4" height="16.0" fill="#101010" opacity="0.4"/>
<rect x="349.6" y="156.0" width="5.4" height="1.3" fill="#0c0c0c" opacity="0.95"/>
<rect x="350.6" y="158.1" width="5.4" height="1.3" fill="#0c0c0c" opacity="0.95"/>
<rect x="349.6" y="160.1" width="5.4" height="1.3" fill="#0c0c0c" opacity="0.95"/>
<rect x="350.6" y="162.2" width="5.4" height="1.3" fill="#0c0c0c" opacity="0.95"/>
<rect x="349.6" y="164.2" width="5.4" height="1.3" fill="#0c0c0c" opacity="0.95"/>
<rect x="350.6" y="166.3" width="5.4" height="1.3" fill="#0c0c0c" opacity="0.95"/>
<rect x="349.6" y="168.3" width="5.4" height="1.3" fill="#0c0c0c" opacity="0.95"/>
<rect x="350.6" y="170.4" width="5.4" height="1.3" fill="#0c0c0c" opacity="0.95"/>
<rect x="349.6" y="172.4" width="5.4" height="1.3" fill="#0c0c0c" opacity="0.95"/>
<rect x="352.2" y="156.0" width="0.9" height="17.0" fill="#b4b2a6" opacity="0.5"/>
<rect x="350.1" y="156.0" width="5.4" height="17.0" fill="#101010" opacity="0.4"/>
<rect x="363.6" y="100.8" width="2.6" height="1.1" fill="#55534c" opacity="0.79"/>
<rect x="363.0" y="106.6" width="3.3" height="1.1" fill="#55534c" opacity="0.51"/>
<rect x="363.2" y="109.4" width="4.1" height="1.1" fill="#55534c" opacity="0.57"/>
<rect x="363.9" y="112" width="2" height="1.2" fill="#666" opacity="0.5"/>
<rect x="361.7" y="114.5" width="5.4" height="1.3" fill="#0c0c0c" opacity="0.95"/>
<rect x="362.7" y="116.5" width="5.4" height="1.3" fill="#0c0c0c" opacity="0.95"/>
<rect x="361.7" y="118.6" width="5.4" height="1.3" fill="#0c0c0c" opacity="0.95"/>
<rect x="362.7" y="120.6" width="5.4" height="1.3" fill="#0c0c0c" opacity="0.95"/>
<rect x="361.7" y="122.7" width="5.4" height="1.3" fill="#0c0c0c" opacity="0.95"/>
<rect x="362.7" y="124.7" width="5.4" height="1.3" fill="#0c0c0c" opacity="0.95"/>
<rect x="361.7" y="126.8" width="5.4" height="1.3" fill="#0c0c0c" opacity="0.95"/>
<rect x="362.7" y="128.8" width="5.4" height="1.3" fill="#0c0c0c" opacity="0.95"/>
<rect x="361.7" y="130.9" width="5.4" height="1.3" fill="#0c0c0c" opacity="0.95"/>
<rect x="362.7" y="133.0" width="5.4" height="1.3" fill="#0c0c0c" opacity="0.95"/>
<rect x="364.3" y="114.5" width="0.9" height="20.7" fill="#b4b2a6" opacity="0.5"/>
<rect x="362.2" y="114.5" width="5.4" height="20.7" fill="#101010" opacity="0.4"/>
<rect x="361.7" y="137.4" width="5.4" height="1.3" fill="#0c0c0c" opacity="0.95"/>
<rect x="362.7" y="139.5" width="5.4" height="1.3" fill="#0c0c0c" opacity="0.95"/>
<rect x="361.7" y="141.5" width="5.4" height="1.3" fill="#0c0c0c" opacity="0.95"/>
<rect x="362.7" y="143.6" width="5.4" height="1.3" fill="#0c0c0c" opacity="0.95"/>
<rect x="361.7" y="145.6" width="5.4" height="1.3" fill="#0c0c0c" opacity="0.95"/>
<rect x="362.7" y="147.7" width="5.4" height="1.3" fill="#0c0c0c" opacity="0.95"/>
<rect x="361.7" y="149.7" width="5.4" height="1.3" fill="#0c0c0c" opacity="0.95"/>
<rect x="362.7" y="151.8" width="5.4" height="1.3" fill="#0c0c0c" opacity="0.95"/>
<rect x="364.3" y="137.4" width="0.9" height="16.0" fill="#b4b2a6" opacity="0.5"/>
<rect x="362.2" y="137.4" width="5.4" height="16.0" fill="#101010" opacity="0.4"/>
<rect x="361.7" y="156.0" width="5.4" height="1.3" fill="#0c0c0c" opacity="0.95"/>
<rect x="362.7" y="158.1" width="5.4" height="1.3" fill="#0c0c0c" opacity="0.95"/>
<rect x="361.7" y="160.1" width="5.4" height="1.3" fill="#0c0c0c" opacity="0.95"/>
<rect x="362.7" y="162.2" width="5.4" height="1.3" fill="#0c0c0c" opacity="0.95"/>
<rect x="361.7" y="164.2" width="5.4" height="1.3" fill="#0c0c0c" opacity="0.95"/>
<rect x="362.7" y="166.3" width="5.4" height="1.3" fill="#0c0c0c" opacity="0.95"/>
<rect x="361.7" y="168.3" width="5.4" height="1.3" fill="#0c0c0c" opacity="0.95"/>
<rect x="362.7" y="170.4" width="5.4" height="1.3" fill="#0c0c0c" opacity="0.95"/>
<rect x="361.7" y="172.4" width="5.4" height="1.3" fill="#0c0c0c" opacity="0.95"/>
<rect x="364.3" y="156.0" width="0.9" height="17.0" fill="#b4b2a6" opacity="0.5"/>
<rect x="362.2" y="156.0" width="5.4" height="17.0" fill="#101010" opacity="0.4"/>
<rect x="375.4" y="100.8" width="4.9" height="1.1" fill="#55534c" opacity="0.75"/>
<rect x="375.5" y="109.4" width="3.2" height="1.1" fill="#55534c" opacity="0.57"/>
<rect x="376.0" y="112" width="2" height="1.2" fill="#666" opacity="0.5"/>
<rect x="373.8" y="117.5" width="5.4" height="1.3" fill="#0c0c0c" opacity="0.95"/>
<rect x="374.8" y="119.5" width="5.4" height="1.3" fill="#0c0c0c" opacity="0.95"/>
<rect x="373.8" y="121.6" width="5.4" height="1.3" fill="#0c0c0c" opacity="0.95"/>
<rect x="374.8" y="123.6" width="5.4" height="1.3" fill="#0c0c0c" opacity="0.95"/>
<rect x="373.8" y="125.7" width="5.4" height="1.3" fill="#0c0c0c" opacity="0.95"/>
<rect x="374.8" y="127.7" width="5.4" height="1.3" fill="#0c0c0c" opacity="0.95"/>
<rect x="373.8" y="129.8" width="5.4" height="1.3" fill="#0c0c0c" opacity="0.95"/>
<rect x="374.8" y="131.8" width="5.4" height="1.3" fill="#0c0c0c" opacity="0.95"/>
<rect x="373.8" y="133.9" width="5.4" height="1.3" fill="#0c0c0c" opacity="0.95"/>
<rect x="374.8" y="136.0" width="5.4" height="1.3" fill="#0c0c0c" opacity="0.95"/>
<rect x="373.8" y="138.0" width="5.4" height="1.3" fill="#0c0c0c" opacity="0.95"/>
<rect x="374.8" y="140.1" width="5.4" height="1.3" fill="#0c0c0c" opacity="0.95"/>
<rect x="376.4" y="117.5" width="0.9" height="23.5" fill="#b4b2a6" opacity="0.5"/>
<rect x="374.3" y="117.5" width="5.4" height="23.5" fill="#101010" opacity="0.4"/>
<rect x="373.8" y="150.0" width="5.4" height="1.3" fill="#0c0c0c" opacity="0.95"/>
<rect x="374.8" y="152.1" width="5.4" height="1.3" fill="#0c0c0c" opacity="0.95"/>
<rect x="373.8" y="154.1" width="5.4" height="1.3" fill="#0c0c0c" opacity="0.95"/>
<rect x="374.8" y="156.2" width="5.4" height="1.3" fill="#0c0c0c" opacity="0.95"/>
<rect x="373.8" y="158.2" width="5.4" height="1.3" fill="#0c0c0c" opacity="0.95"/>
<rect x="374.8" y="160.3" width="5.4" height="1.3" fill="#0c0c0c" opacity="0.95"/>
<rect x="373.8" y="162.3" width="5.4" height="1.3" fill="#0c0c0c" opacity="0.95"/>
<rect x="374.8" y="164.4" width="5.4" height="1.3" fill="#0c0c0c" opacity="0.95"/>
<rect x="373.8" y="166.4" width="5.4" height="1.3" fill="#0c0c0c" opacity="0.95"/>
<rect x="374.8" y="168.5" width="5.4" height="1.3" fill="#0c0c0c" opacity="0.95"/>
<rect x="373.8" y="170.5" width="5.4" height="1.3" fill="#0c0c0c" opacity="0.95"/>
<rect x="376.4" y="150.0" width="0.9" height="23.0" fill="#b4b2a6" opacity="0.5"/>
<rect x="374.3" y="150.0" width="5.4" height="23.0" fill="#101010" opacity="0.4"/>
<rect x="387.6" y="100.8" width="2.6" height="1.1" fill="#55534c" opacity="0.54"/>
<rect x="386.5" y="103.6" width="5.4" height="1.1" fill="#55534c" opacity="0.78"/>
<rect x="388.2" y="112" width="2" height="1.2" fill="#666" opacity="0.5"/>
<rect x="386.1" y="117.5" width="5.4" height="1.3" fill="#0c0c0c" opacity="0.95"/>
<rect x="387.1" y="119.5" width="5.4" height="1.3" fill="#0c0c0c" opacity="0.95"/>
<rect x="386.1" y="121.6" width="5.4" height="1.3" fill="#0c0c0c" opacity="0.95"/>
<rect x="387.1" y="123.6" width="5.4" height="1.3" fill="#0c0c0c" opacity="0.95"/>
<rect x="386.1" y="125.7" width="5.4" height="1.3" fill="#0c0c0c" opacity="0.95"/>
<rect x="387.1" y="127.7" width="5.4" height="1.3" fill="#0c0c0c" opacity="0.95"/>
<rect x="386.1" y="129.8" width="5.4" height="1.3" fill="#0c0c0c" opacity="0.95"/>
<rect x="387.1" y="131.8" width="5.4" height="1.3" fill="#0c0c0c" opacity="0.95"/>
<rect x="386.1" y="133.9" width="5.4" height="1.3" fill="#0c0c0c" opacity="0.95"/>
<rect x="387.1" y="136.0" width="5.4" height="1.3" fill="#0c0c0c" opacity="0.95"/>
<rect x="386.1" y="138.0" width="5.4" height="1.3" fill="#0c0c0c" opacity="0.95"/>
<rect x="387.1" y="140.1" width="5.4" height="1.3" fill="#0c0c0c" opacity="0.95"/>
<rect x="388.7" y="117.5" width="0.9" height="23.5" fill="#b4b2a6" opacity="0.5"/>
<rect x="386.6" y="117.5" width="5.4" height="23.5" fill="#101010" opacity="0.4"/>
<rect x="386.1" y="150.0" width="5.4" height="1.3" fill="#0c0c0c" opacity="0.95"/>
<rect x="387.1" y="152.1" width="5.4" height="1.3" fill="#0c0c0c" opacity="0.95"/>
<rect x="386.1" y="154.1" width="5.4" height="1.3" fill="#0c0c0c" opacity="0.95"/>
<rect x="387.1" y="156.2" width="5.4" height="1.3" fill="#0c0c0c" opacity="0.95"/>
<rect x="386.1" y="158.2" width="5.4" height="1.3" fill="#0c0c0c" opacity="0.95"/>
<rect x="387.1" y="160.3" width="5.4" height="1.3" fill="#0c0c0c" opacity="0.95"/>
<rect x="386.1" y="162.3" width="5.4" height="1.3" fill="#0c0c0c" opacity="0.95"/>
<rect x="387.1" y="164.4" width="5.4" height="1.3" fill="#0c0c0c" opacity="0.95"/>
<rect x="386.1" y="166.4" width="5.4" height="1.3" fill="#0c0c0c" opacity="0.95"/>
<rect x="387.1" y="168.5" width="5.4" height="1.3" fill="#0c0c0c" opacity="0.95"/>
<rect x="386.1" y="170.5" width="5.4" height="1.3" fill="#0c0c0c" opacity="0.95"/>
<rect x="388.7" y="150.0" width="0.9" height="23.0" fill="#b4b2a6" opacity="0.5"/>
<rect x="386.6" y="150.0" width="5.4" height="23.0" fill="#101010" opacity="0.4"/>
<rect x="399.4" y="100.8" width="3.2" height="1.1" fill="#55534c" opacity="0.52"/>
<rect x="399.9" y="103.6" width="4.4" height="1.1" fill="#55534c" opacity="0.74"/>
<rect x="399.7" y="106.6" width="4.5" height="1.1" fill="#55534c" opacity="0.48"/>
<rect x="399.3" y="109.4" width="5.2" height="1.1" fill="#55534c" opacity="0.71"/>
<rect x="400.4" y="112" width="2" height="1.2" fill="#666" opacity="0.5"/>
<rect x="398.2" y="114.5" width="6.4" height="1.25" fill="#1c1c1a" opacity="0.93"/>
<rect x="398.2" y="116.5" width="6.4" height="1.25" fill="#1c1c1a" opacity="0.93"/>
<rect x="398.2" y="118.6" width="6.4" height="1.25" fill="#1c1c1a" opacity="0.93"/>
<rect x="398.2" y="120.6" width="6.4" height="1.25" fill="#1c1c1a" opacity="0.93"/>
<rect x="398.2" y="122.7" width="6.4" height="1.25" fill="#1c1c1a" opacity="0.93"/>
<rect x="398.2" y="124.7" width="6.4" height="1.25" fill="#1c1c1a" opacity="0.93"/>
<rect x="398.2" y="126.8" width="6.4" height="1.25" fill="#1c1c1a" opacity="0.93"/>
<rect x="398.2" y="128.8" width="6.4" height="1.25" fill="#1c1c1a" opacity="0.93"/>
<rect x="398.2" y="130.9" width="6.4" height="1.25" fill="#1c1c1a" opacity="0.93"/>
<rect x="398.2" y="133.0" width="6.4" height="1.25" fill="#1c1c1a" opacity="0.93"/>
<rect x="399.8" y="114.5" width="0.6" height="20.7" fill="#b4b2a6" opacity="0.55"/>
<rect x="401.4" y="114.5" width="0.6" height="20.7" fill="#b4b2a6" opacity="0.55"/>
<rect x="403.1" y="114.5" width="0.6" height="20.7" fill="#b4b2a6" opacity="0.55"/>
<rect x="398.2" y="114.5" width="6.4" height="20.7" fill="#101010" opacity="0.62"/>
<rect x="398.2" y="137.4" width="6.4" height="1.25" fill="#1c1c1a" opacity="0.93"/>
<rect x="398.2" y="139.5" width="6.4" height="1.25" fill="#1c1c1a" opacity="0.93"/>
<rect x="398.2" y="141.5" width="6.4" height="1.25" fill="#1c1c1a" opacity="0.93"/>
<rect x="398.2" y="143.6" width="6.4" height="1.25" fill="#1c1c1a" opacity="0.93"/>
<rect x="398.2" y="145.6" width="6.4" height="1.25" fill="#1c1c1a" opacity="0.93"/>
<rect x="398.2" y="147.7" width="6.4" height="1.25" fill="#1c1c1a" opacity="0.93"/>
<rect x="398.2" y="149.7" width="6.4" height="1.25" fill="#1c1c1a" opacity="0.93"/>
<rect x="398.2" y="151.8" width="6.4" height="1.25" fill="#1c1c1a" opacity="0.93"/>
<rect x="399.8" y="137.4" width="0.6" height="16.0" fill="#b4b2a6" opacity="0.55"/>
<rect x="401.4" y="137.4" width="0.6" height="16.0" fill="#b4b2a6" opacity="0.55"/>
<rect x="403.1" y="137.4" width="0.6" height="16.0" fill="#b4b2a6" opacity="0.55"/>
<rect x="398.2" y="137.4" width="6.4" height="16.0" fill="#101010" opacity="0.62"/>
<rect x="398.2" y="156.0" width="6.4" height="1.25" fill="#1c1c1a" opacity="0.93"/>
<rect x="398.2" y="158.1" width="6.4" height="1.25" fill="#1c1c1a" opacity="0.93"/>
<rect x="398.2" y="160.1" width="6.4" height="1.25" fill="#1c1c1a" opacity="0.93"/>
<rect x="398.2" y="162.2" width="6.4" height="1.25" fill="#1c1c1a" opacity="0.93"/>
<rect x="398.2" y="164.2" width="6.4" height="1.25" fill="#1c1c1a" opacity="0.93"/>
<rect x="398.2" y="166.3" width="6.4" height="1.25" fill="#1c1c1a" opacity="0.93"/>
<rect x="398.2" y="168.3" width="6.4" height="1.25" fill="#1c1c1a" opacity="0.93"/>
<rect x="398.2" y="170.4" width="6.4" height="1.25" fill="#1c1c1a" opacity="0.93"/>
<rect x="398.2" y="172.4" width="6.4" height="1.25" fill="#1c1c1a" opacity="0.93"/>
<rect x="399.8" y="156.0" width="0.6" height="17.0" fill="#b4b2a6" opacity="0.55"/>
<rect x="401.4" y="156.0" width="0.6" height="17.0" fill="#b4b2a6" opacity="0.55"/>
<rect x="403.1" y="156.0" width="0.6" height="17.0" fill="#b4b2a6" opacity="0.55"/>
<rect x="398.2" y="156.0" width="6.4" height="17.0" fill="#101010" opacity="0.62"/>
<rect x="413.1" y="100.8" width="3.0" height="1.1" fill="#55534c" opacity="0.57"/>
<rect x="413.0" y="109.4" width="3.7" height="1.1" fill="#55534c" opacity="0.70"/>
<rect x="413.1" y="112" width="2" height="1.2" fill="#666" opacity="0.5"/>
<rect x="410.9" y="117.5" width="5.4" height="1.3" fill="#0c0c0c" opacity="0.95"/>
<rect x="411.9" y="119.5" width="5.4" height="1.3" fill="#0c0c0c" opacity="0.95"/>
<rect x="410.9" y="121.6" width="5.4" height="1.3" fill="#0c0c0c" opacity="0.95"/>
<rect x="411.9" y="123.6" width="5.4" height="1.3" fill="#0c0c0c" opacity="0.95"/>
<rect x="410.9" y="125.7" width="5.4" height="1.3" fill="#0c0c0c" opacity="0.95"/>
<rect x="411.9" y="127.7" width="5.4" height="1.3" fill="#0c0c0c" opacity="0.95"/>
<rect x="410.9" y="129.8" width="5.4" height="1.3" fill="#0c0c0c" opacity="0.95"/>
<rect x="411.9" y="131.8" width="5.4" height="1.3" fill="#0c0c0c" opacity="0.95"/>
<rect x="410.9" y="133.9" width="5.4" height="1.3" fill="#0c0c0c" opacity="0.95"/>
<rect x="411.9" y="136.0" width="5.4" height="1.3" fill="#0c0c0c" opacity="0.95"/>
<rect x="410.9" y="138.0" width="5.4" height="1.3" fill="#0c0c0c" opacity="0.95"/>
<rect x="411.9" y="140.1" width="5.4" height="1.3" fill="#0c0c0c" opacity="0.95"/>
<rect x="410.9" y="142.1" width="5.4" height="1.3" fill="#0c0c0c" opacity="0.95"/>
<rect x="413.6" y="117.5" width="0.9" height="25.5" fill="#b4b2a6" opacity="0.5"/>
<rect x="411.4" y="117.5" width="5.4" height="25.5" fill="#101010" opacity="0.4"/>
<rect x="410.9" y="148.0" width="5.4" height="1.3" fill="#0c0c0c" opacity="0.95"/>
<rect x="411.9" y="150.1" width="5.4" height="1.3" fill="#0c0c0c" opacity="0.95"/>
<rect x="413.6" y="148.0" width="0.9" height="4.0" fill="#b4b2a6" opacity="0.5"/>
<rect x="411.4" y="148.0" width="5.4" height="4.0" fill="#101010" opacity="0.4"/>
<rect x="410.9" y="158.0" width="5.4" height="1.3" fill="#0c0c0c" opacity="0.95"/>
<rect x="411.9" y="160.1" width="5.4" height="1.3" fill="#0c0c0c" opacity="0.95"/>
<rect x="413.6" y="158.0" width="0.9" height="3.0" fill="#b4b2a6" opacity="0.5"/>
<rect x="411.4" y="158.0" width="5.4" height="3.0" fill="#101010" opacity="0.4"/>
<rect x="410.9" y="166.0" width="5.4" height="1.3" fill="#0c0c0c" opacity="0.95"/>
<rect x="411.9" y="168.1" width="5.4" height="1.3" fill="#0c0c0c" opacity="0.95"/>
<rect x="410.9" y="170.1" width="5.4" height="1.3" fill="#0c0c0c" opacity="0.95"/>
<rect x="411.9" y="172.2" width="5.4" height="1.3" fill="#0c0c0c" opacity="0.95"/>
<rect x="413.6" y="166.0" width="0.9" height="7.0" fill="#b4b2a6" opacity="0.5"/>
<rect x="411.4" y="166.0" width="5.4" height="7.0" fill="#101010" opacity="0.4"/>
</g>
<g filter="url(#cb2)">
<rect x="421.4" y="91.5" width="21" height="95" fill="#9a9a94"/>
<rect x="421.4" y="91.5" width="21" height="5" fill="#5a86c4"/>
<rect x="421.4" y="96.5" width="1.8" height="28" fill="#2a2a2a"/>
<rect x="423.5" y="97.5" width="17.6" height="11.5" fill="#a9a89f"/>
<rect x="423.5" y="108.6" width="17.6" height="3" fill="#4a4a44"/>
<rect x="423.5" y="111.8" width="17.6" height="11" fill="#b2b1a8"/>
<rect x="421.4" y="123.5" width="21" height="1.6" fill="#cfd4da"/>
<rect x="421.4" y="125" width="21" height="58" fill="#26282a"/>
<rect x="423" y="125.5" width="8" height="12" fill="#9aa0a4" opacity="0.8"/>
<rect x="431" y="126.5" width="9" height="9" fill="#17181a"/>
<rect x="424" y="136" width="16" height="7" fill="#1a1b1d"/>
<rect x="426" y="143.5" width="14" height="6" fill="#333538"/>
<rect x="432" y="145.5" width="1.6" height="1.6" fill="#cfcfcf"/><rect x="436" y="145.5" width="1.6" height="1.6" fill="#cfcfcf"/>
<rect x="421.4" y="151" width="21" height="1.6" fill="#b8bcc0"/>
<rect x="422.5" y="152.600" width="8" height="6" fill="#7a9a6a"/>
<rect x="431" y="153" width="10" height="10" fill="#1a1b1d"/>
<rect x="423" y="159" width="17" height="2" fill="#8a8d90" opacity="0.8"/>
<rect x="424" y="163" width="16" height="9" fill="#4a4c50"/>
<rect x="426" y="163" width="1.2" height="9" fill="#17181a"/>
<rect x="429" y="163" width="1.2" height="9" fill="#17181a"/>
<rect x="432" y="163" width="1.2" height="9" fill="#17181a"/>
<rect x="435" y="163" width="1.2" height="9" fill="#17181a"/>
<rect x="438" y="163" width="1.2" height="9" fill="#17181a"/>
<rect x="423" y="172" width="18" height="10" fill="#1c1d1f"/>
<rect x="421.4" y="182" width="21" height="4.4" fill="#8a8c90"/>
</g>
<g fill="#8e8d88" opacity="0.6">
<rect x="259.6" y="181.6" width="1.2" height="1"/>
<rect x="256.0" y="185.1" width="1.2" height="1"/>
<rect x="383.4" y="181.7" width="1.2" height="1"/>
<rect x="387.3" y="185.4" width="1.2" height="1"/>
<rect x="354.4" y="182.6" width="1.2" height="1"/>
<rect x="333.3" y="181.6" width="1.2" height="1"/>
<rect x="229.4" y="185.4" width="1.2" height="1"/>
<rect x="352.9" y="183.4" width="1.2" height="1"/>
<rect x="408.1" y="183.0" width="1.2" height="1"/>
<rect x="396.1" y="184.7" width="1.2" height="1"/>
<rect x="267.6" y="182.1" width="1.2" height="1"/>
<rect x="283.6" y="182.1" width="1.2" height="1"/>
<rect x="340.6" y="182.2" width="1.2" height="1"/>
<rect x="308.1" y="181.6" width="1.2" height="1"/>
<rect x="403.5" y="182.6" width="1.2" height="1"/>
<rect x="315.7" y="183.6" width="1.2" height="1"/>
<rect x="402.4" y="182.9" width="1.2" height="1"/>
<rect x="405.0" y="183.3" width="1.2" height="1"/>
<rect x="330.0" y="183.4" width="1.2" height="1"/>
<rect x="230.2" y="183.0" width="1.2" height="1"/>
<rect x="262.2" y="181.0" width="1.2" height="1"/>
<rect x="382.0" y="181.8" width="1.2" height="1"/>
<rect x="318.6" y="184.3" width="1.2" height="1"/>
<rect x="334.8" y="182.5" width="1.2" height="1"/>
<rect x="327.4" y="183.5" width="1.2" height="1"/>
<rect x="379.1" y="181.5" width="1.2" height="1"/>
<rect x="335.5" y="182.1" width="1.2" height="1"/>
<rect x="280.4" y="184.5" width="1.2" height="1"/>
<rect x="325.3" y="183.5" width="1.2" height="1"/>
<rect x="374.3" y="185.1" width="1.2" height="1"/>
<rect x="312.8" y="183.8" width="1.2" height="1"/>
<rect x="324.9" y="183.3" width="1.2" height="1"/>
<rect x="361.3" y="183.0" width="1.2" height="1"/>
<rect x="330.3" y="183.2" width="1.2" height="1"/>
<rect x="409.6" y="184.1" width="1.2" height="1"/>
<rect x="397.0" y="185.2" width="1.2" height="1"/>
<rect x="277.1" y="183.5" width="1.2" height="1"/>
<rect x="410.0" y="184.8" width="1.2" height="1"/>
<rect x="253.3" y="181.5" width="1.2" height="1"/>
<rect x="312.5" y="181.3" width="1.2" height="1"/>
</g>
</g>
<g id="cloud">
<g transform="translate(570,15) scale(0.26824) translate(460,255) scale(1.0,1.0) translate(-460,-255)" fill="#4f81bd" stroke="#385d8a" stroke-width="25.5" stroke-linejoin="round" stroke-linecap="butt">
<path d="M125,185 C110,100 260,60 340,100 C360,50 440,45 478,80 C500,35 580,35 608,76 C650,30 745,35 778,98 C828,104 866,160 836,205 C883,235 870,310 762,330 C760,400 660,425 592,395 C570,470 420,480 360,432 C310,450 220,440 182,392 C120,395 50,360 78,298 C40,280 45,200 125,185 Z"/>
<path d="M695,262 C740,275 765,305 762,330 M78,298 L142,296 M340,100 L352,116 M608,76 L596,90 M836,205 L808,222 M478,80 L468,92 M360,432 L362,412 M592,395 L584,380 M182,392 L190,380" fill="none"/>
</g>
<text x="645.2" y="72.4" font-size="24.4" textLength="80.4" lengthAdjust="spacingAndGlyphs" style="fill:#fff">Coaxial</text>
<text x="649.3" y="105.9" font-size="24.4" textLength="73.6" lengthAdjust="spacingAndGlyphs" style="fill:#fff">Wiring</text>
</g>
<g id="stb">
<path d="M576.5,244 H662.5 Q666,244 666,247.5 V269 L663.5,272.3 H575.5 L573,269 V247.5 Q573,244 576.5,244 Z" fill="#000"/>
<circle cx="586.5" cy="257.7" r="5.5" fill="#fff"/>
<circle cx="614" cy="257.700" r="2.8" fill="#fff"/>
<circle cx="627.500" cy="257.700" r="2.8" fill="#fff"/>
<circle cx="641" cy="257.700" r="2.8" fill="#fff"/>
<circle cx="655" cy="257.700" r="2.8" fill="#fff"/>
</g>
<text x="582.4" y="297.2" font-size="24.3" textLength="86.3" lengthAdjust="spacingAndGlyphs" xml:space="preserve">TV  STB</text>
<g id="tv">
<rect x="751.15" y="207.05" width="101.8" height="63" fill="#fff" stroke="#000" stroke-width="6.5"/>
<rect x="786.200" y="272" width="6.400" height="10" fill="#000"/>
<rect x="811.700" y="272" width="6.400" height="10" fill="#000"/>
<rect x="762.5" y="281" width="79.2" height="4.8" fill="#000"/>
</g>
<text x="802.6" y="313.4" text-anchor="middle" font-size="24.3" textLength="123" lengthAdjust="spacingAndGlyphs">Residential</text>
<text x="802.6" y="346" text-anchor="middle" font-size="24.3" textLength="29.5" lengthAdjust="spacingAndGlyphs">TV</text>
<g id="mdu">
<defs><filter id="mb" x="-3%" y="-3%" width="106%" height="106%"><feGaussianBlur stdDeviation="0.4"/></filter>
<clipPath id="mduclip"><rect x="58" y="421.8" width="157" height="158"/></clipPath></defs>
<path d="M59.5,421.8 H157 L172.5,424.4 L191.5,442 L204.2,453.4 L206.8,461 V446 Q206.8,443.8 209.2,443.8 Q211.6,443.8 211.6,446 V512.5 H213.5 V516 H208 V564 H186 V579.8 H59.5 Z" fill="#fff"/>
<g filter="url(#mb)" clip-path="url(#mduclip)">
<rect x="59.2" y="421.8" width="2.6" height="158" fill="#0a0a0a"/>
<path d="M149.6,421.8 L151.6,421.8 L154.2,579.8 L152.2,579.8 Z" fill="#0a0a0a"/>
<path d="M66.5,422 V432.6 L140,421.8" fill="none" stroke="#0a0a0a" stroke-width="1.3"/>
<path d="M68,431 L80,423 M72,432 L92,422 M84,429.5 L99,422 M103,427 L112,422" fill="none" stroke="#0a0a0a" stroke-width="1.1"/>
<path d="M64.5,437.1 L82.4,433.9 L82.4,445.1 L64.5,448.3 Z" fill="#0a0a0a"/>
<path d="M63.3,449.2 L83.6,446.0" stroke="#0a0a0a" stroke-width="1.7" fill="none"/>
<rect x="66.2" y="437.7" width="2.8" height="3.3" fill="#fff"/>
<rect x="66.2" y="442.9" width="2.8" height="3.0" fill="#fff"/>
<path d="M69.0,442.9 v3.0 h-2.6 Z" fill="#0a0a0a" opacity="0.85"/>
<rect x="71.6" y="436.7" width="2.8" height="3.3" fill="#fff"/>
<rect x="71.6" y="441.9" width="2.8" height="3.0" fill="#fff"/>
<path d="M74.5,441.9 v3.0 h-2.6 Z" fill="#0a0a0a" opacity="0.85"/>
<rect x="77.1" y="435.7" width="2.8" height="3.3" fill="#fff"/>
<rect x="77.1" y="440.9" width="2.8" height="3.0" fill="#fff"/>
<path d="M79.9,440.9 v3.0 h-2.6 Z" fill="#0a0a0a" opacity="0.85"/>
<path d="M87.7,432.9 L105.5,429.7 L105.5,440.9 L87.7,444.1 Z" fill="#0a0a0a"/>
<path d="M86.5,445.0 L106.7,441.8" stroke="#0a0a0a" stroke-width="1.7" fill="none"/>
<rect x="89.4" y="433.5" width="2.8" height="3.3" fill="#fff"/>
<rect x="89.4" y="438.7" width="2.8" height="3.0" fill="#fff"/>
<path d="M92.2,438.7 v3.0 h-2.5 Z" fill="#0a0a0a" opacity="0.85"/>
<rect x="94.8" y="432.5" width="2.8" height="3.3" fill="#fff"/>
<rect x="94.8" y="437.7" width="2.8" height="3.0" fill="#fff"/>
<path d="M97.6,437.7 v3.0 h-2.5 Z" fill="#0a0a0a" opacity="0.85"/>
<rect x="100.2" y="431.5" width="2.8" height="3.3" fill="#fff"/>
<rect x="100.2" y="436.7" width="2.8" height="3.0" fill="#fff"/>
<path d="M103.0,436.7 v3.0 h-2.5 Z" fill="#0a0a0a" opacity="0.85"/>
<path d="M110.8,428.7 L128.6,425.5 L128.6,436.7 L110.8,439.9 Z" fill="#0a0a0a"/>
<path d="M109.6,440.8 L129.8,437.6" stroke="#0a0a0a" stroke-width="1.7" fill="none"/>
<rect x="112.5" y="429.3" width="2.8" height="3.3" fill="#fff"/>
<rect x="112.5" y="434.5" width="2.8" height="3.0" fill="#fff"/>
<path d="M115.3,434.5 v3.0 h-2.5 Z" fill="#0a0a0a" opacity="0.85"/>
<rect x="117.9" y="428.3" width="2.8" height="3.3" fill="#fff"/>
<rect x="117.9" y="433.5" width="2.8" height="3.0" fill="#fff"/>
<path d="M120.7,433.5 v3.0 h-2.5 Z" fill="#0a0a0a" opacity="0.85"/>
<rect x="123.3" y="427.3" width="2.8" height="3.3" fill="#fff"/>
<rect x="123.3" y="432.5" width="2.8" height="3.0" fill="#fff"/>
<path d="M126.1,432.5 v3.0 h-2.5 Z" fill="#0a0a0a" opacity="0.85"/>
<path d="M132.8,424.7 L146.0,422.3 L146.0,433.5 L132.8,435.9 Z" fill="#0a0a0a"/>
<path d="M131.6,436.8 L147.2,434.4" stroke="#0a0a0a" stroke-width="1.7" fill="none"/>
<rect x="134.5" y="425.2" width="3.2" height="3.3" fill="#fff"/>
<rect x="134.5" y="430.4" width="3.2" height="3.0" fill="#fff"/>
<path d="M137.7,430.4 v3.0 h-2.9 Z" fill="#0a0a0a" opacity="0.85"/>
<rect x="140.3" y="424.2" width="3.2" height="3.3" fill="#fff"/>
<rect x="140.3" y="429.4" width="3.2" height="3.0" fill="#fff"/>
<path d="M143.5,429.4 v3.0 h-2.9 Z" fill="#0a0a0a" opacity="0.85"/>
<path d="M64.5,454.1 L82.4,451.3 L82.4,462.5 L64.5,465.3 Z" fill="#0a0a0a"/>
<path d="M63.3,466.2 L83.6,463.4" stroke="#0a0a0a" stroke-width="1.7" fill="none"/>
<rect x="66.2" y="454.8" width="2.8" height="3.3" fill="#fff"/>
<rect x="66.2" y="460.0" width="2.8" height="3.0" fill="#fff"/>
<path d="M69.0,460.0 v3.0 h-2.6 Z" fill="#0a0a0a" opacity="0.85"/>
<rect x="71.6" y="453.9" width="2.8" height="3.3" fill="#fff"/>
<rect x="71.6" y="459.1" width="2.8" height="3.0" fill="#fff"/>
<path d="M74.5,459.1 v3.0 h-2.6 Z" fill="#0a0a0a" opacity="0.85"/>
<rect x="77.1" y="453.1" width="2.8" height="3.3" fill="#fff"/>
<rect x="77.1" y="458.3" width="2.8" height="3.0" fill="#fff"/>
<path d="M79.9,458.3 v3.0 h-2.6 Z" fill="#0a0a0a" opacity="0.85"/>
<path d="M87.7,450.5 L105.5,447.8 L105.5,459.0 L87.7,461.7 Z" fill="#0a0a0a"/>
<path d="M86.5,462.6 L106.7,459.9" stroke="#0a0a0a" stroke-width="1.7" fill="none"/>
<rect x="89.4" y="451.2" width="2.8" height="3.3" fill="#fff"/>
<rect x="89.4" y="456.4" width="2.8" height="3.0" fill="#fff"/>
<path d="M92.2,456.4 v3.0 h-2.5 Z" fill="#0a0a0a" opacity="0.85"/>
<rect x="94.8" y="450.4" width="2.8" height="3.3" fill="#fff"/>
<rect x="94.8" y="455.6" width="2.8" height="3.0" fill="#fff"/>
<path d="M97.6,455.6 v3.0 h-2.5 Z" fill="#0a0a0a" opacity="0.85"/>
<rect x="100.2" y="449.6" width="2.8" height="3.3" fill="#fff"/>
<rect x="100.2" y="454.8" width="2.8" height="3.0" fill="#fff"/>
<path d="M103.0,454.8 v3.0 h-2.5 Z" fill="#0a0a0a" opacity="0.85"/>
<path d="M110.8,447.0 L128.6,444.2 L128.6,455.4 L110.8,458.2 Z" fill="#0a0a0a"/>
<path d="M109.6,459.1 L129.8,456.3" stroke="#0a0a0a" stroke-width="1.7" fill="none"/>
<rect x="112.5" y="447.7" width="2.8" height="3.3" fill="#fff"/>
<rect x="112.5" y="452.9" width="2.8" height="3.0" fill="#fff"/>
<path d="M115.3,452.9 v3.0 h-2.5 Z" fill="#0a0a0a" opacity="0.85"/>
<rect x="117.9" y="446.8" width="2.8" height="3.3" fill="#fff"/>
<rect x="117.9" y="452.0" width="2.8" height="3.0" fill="#fff"/>
<path d="M120.7,452.0 v3.0 h-2.5 Z" fill="#0a0a0a" opacity="0.85"/>
<rect x="123.3" y="446.0" width="2.8" height="3.3" fill="#fff"/>
<rect x="123.3" y="451.2" width="2.8" height="3.0" fill="#fff"/>
<path d="M126.1,451.2 v3.0 h-2.5 Z" fill="#0a0a0a" opacity="0.85"/>
<path d="M132.8,443.6 L146.0,441.6 L146.0,452.8 L132.8,454.8 Z" fill="#0a0a0a"/>
<path d="M131.6,455.7 L147.2,453.7" stroke="#0a0a0a" stroke-width="1.7" fill="none"/>
<rect x="134.5" y="444.3" width="3.2" height="3.3" fill="#fff"/>
<rect x="134.5" y="449.5" width="3.2" height="3.0" fill="#fff"/>
<path d="M137.7,449.5 v3.0 h-2.9 Z" fill="#0a0a0a" opacity="0.85"/>
<rect x="140.3" y="443.4" width="3.2" height="3.3" fill="#fff"/>
<rect x="140.3" y="448.6" width="3.2" height="3.0" fill="#fff"/>
<path d="M143.5,448.6 v3.0 h-2.9 Z" fill="#0a0a0a" opacity="0.85"/>
<path d="M64.5,472.3 L82.4,470.1 L82.4,481.3 L64.5,483.5 Z" fill="#0a0a0a"/>
<path d="M63.3,484.4 L83.6,482.2" stroke="#0a0a0a" stroke-width="1.7" fill="none"/>
<rect x="66.2" y="473.1" width="2.8" height="3.3" fill="#fff"/>
<rect x="66.2" y="478.3" width="2.8" height="3.0" fill="#fff"/>
<path d="M69.0,478.3 v3.0 h-2.6 Z" fill="#0a0a0a" opacity="0.85"/>
<rect x="71.6" y="472.5" width="2.8" height="3.3" fill="#fff"/>
<rect x="71.6" y="477.7" width="2.8" height="3.0" fill="#fff"/>
<path d="M74.5,477.7 v3.0 h-2.6 Z" fill="#0a0a0a" opacity="0.85"/>
<rect x="77.1" y="471.8" width="2.8" height="3.3" fill="#fff"/>
<rect x="77.1" y="477.0" width="2.8" height="3.0" fill="#fff"/>
<path d="M79.9,477.0 v3.0 h-2.6 Z" fill="#0a0a0a" opacity="0.85"/>
<path d="M87.7,469.5 L105.5,467.3 L105.5,478.5 L87.7,480.7 Z" fill="#0a0a0a"/>
<path d="M86.5,481.6 L106.7,479.4" stroke="#0a0a0a" stroke-width="1.7" fill="none"/>
<rect x="89.4" y="470.3" width="2.8" height="3.3" fill="#fff"/>
<rect x="89.4" y="475.5" width="2.8" height="3.0" fill="#fff"/>
<path d="M92.2,475.5 v3.0 h-2.5 Z" fill="#0a0a0a" opacity="0.85"/>
<rect x="94.8" y="469.6" width="2.8" height="3.3" fill="#fff"/>
<rect x="94.8" y="474.8" width="2.8" height="3.0" fill="#fff"/>
<path d="M97.6,474.8 v3.0 h-2.5 Z" fill="#0a0a0a" opacity="0.85"/>
<rect x="100.2" y="468.9" width="2.8" height="3.3" fill="#fff"/>
<rect x="100.2" y="474.1" width="2.8" height="3.0" fill="#fff"/>
<path d="M103.0,474.1 v3.0 h-2.5 Z" fill="#0a0a0a" opacity="0.85"/>
<path d="M110.8,466.6 L128.6,464.4 L128.6,475.6 L110.8,477.8 Z" fill="#0a0a0a"/>
<path d="M109.6,478.7 L129.8,476.5" stroke="#0a0a0a" stroke-width="1.7" fill="none"/>
<rect x="112.5" y="467.4" width="2.8" height="3.3" fill="#fff"/>
<rect x="112.5" y="472.6" width="2.8" height="3.0" fill="#fff"/>
<path d="M115.3,472.6 v3.0 h-2.5 Z" fill="#0a0a0a" opacity="0.85"/>
<rect x="117.9" y="466.8" width="2.8" height="3.3" fill="#fff"/>
<rect x="117.9" y="472.0" width="2.8" height="3.0" fill="#fff"/>
<path d="M120.7,472.0 v3.0 h-2.5 Z" fill="#0a0a0a" opacity="0.85"/>
<rect x="123.3" y="466.1" width="2.8" height="3.3" fill="#fff"/>
<rect x="123.3" y="471.3" width="2.8" height="3.0" fill="#fff"/>
<path d="M126.1,471.3 v3.0 h-2.5 Z" fill="#0a0a0a" opacity="0.85"/>
<path d="M132.8,463.9 L146.0,462.3 L146.0,473.5 L132.8,475.1 Z" fill="#0a0a0a"/>
<path d="M131.6,476.0 L147.2,474.4" stroke="#0a0a0a" stroke-width="1.7" fill="none"/>
<rect x="134.5" y="464.7" width="3.2" height="3.3" fill="#fff"/>
<rect x="134.5" y="469.9" width="3.2" height="3.0" fill="#fff"/>
<path d="M137.7,469.9 v3.0 h-2.9 Z" fill="#0a0a0a" opacity="0.85"/>
<rect x="140.3" y="464.0" width="3.2" height="3.3" fill="#fff"/>
<rect x="140.3" y="469.2" width="3.2" height="3.0" fill="#fff"/>
<path d="M143.5,469.2 v3.0 h-2.9 Z" fill="#0a0a0a" opacity="0.85"/>
<path d="M64.5,490.0 L82.4,488.0 L82.4,499.2 L64.5,501.2 Z" fill="#0a0a0a"/>
<path d="M63.3,502.1 L83.6,500.1" stroke="#0a0a0a" stroke-width="1.7" fill="none"/>
<rect x="66.2" y="490.9" width="2.8" height="3.3" fill="#fff"/>
<rect x="66.2" y="496.1" width="2.8" height="3.0" fill="#fff"/>
<path d="M69.0,496.1 v3.0 h-2.6 Z" fill="#0a0a0a" opacity="0.85"/>
<rect x="71.6" y="490.3" width="2.8" height="3.3" fill="#fff"/>
<rect x="71.6" y="495.5" width="2.8" height="3.0" fill="#fff"/>
<path d="M74.5,495.5 v3.0 h-2.6 Z" fill="#0a0a0a" opacity="0.85"/>
<rect x="77.1" y="489.6" width="2.8" height="3.3" fill="#fff"/>
<rect x="77.1" y="494.8" width="2.8" height="3.0" fill="#fff"/>
<path d="M79.9,494.8 v3.0 h-2.6 Z" fill="#0a0a0a" opacity="0.85"/>
<path d="M87.7,487.4 L105.5,485.4 L105.5,496.6 L87.7,498.6 Z" fill="#0a0a0a"/>
<path d="M86.5,499.5 L106.7,497.5" stroke="#0a0a0a" stroke-width="1.7" fill="none"/>
<rect x="89.4" y="488.3" width="2.8" height="3.3" fill="#fff"/>
<rect x="89.4" y="493.5" width="2.8" height="3.0" fill="#fff"/>
<path d="M92.2,493.5 v3.0 h-2.5 Z" fill="#0a0a0a" opacity="0.85"/>
<rect x="94.8" y="487.7" width="2.8" height="3.3" fill="#fff"/>
<rect x="94.8" y="492.9" width="2.8" height="3.0" fill="#fff"/>
<path d="M97.6,492.9 v3.0 h-2.5 Z" fill="#0a0a0a" opacity="0.85"/>
<rect x="100.2" y="487.0" width="2.8" height="3.3" fill="#fff"/>
<rect x="100.2" y="492.2" width="2.8" height="3.0" fill="#fff"/>
<path d="M103.0,492.2 v3.0 h-2.5 Z" fill="#0a0a0a" opacity="0.85"/>
<path d="M110.8,484.8 L128.6,482.8 L128.6,494.0 L110.8,496.0 Z" fill="#0a0a0a"/>
<path d="M109.6,496.9 L129.8,494.9" stroke="#0a0a0a" stroke-width="1.7" fill="none"/>
<rect x="112.5" y="485.7" width="2.8" height="3.3" fill="#fff"/>
<rect x="112.5" y="490.9" width="2.8" height="3.0" fill="#fff"/>
<path d="M115.3,490.9 v3.0 h-2.5 Z" fill="#0a0a0a" opacity="0.85"/>
<rect x="117.9" y="485.1" width="2.8" height="3.3" fill="#fff"/>
<rect x="117.9" y="490.3" width="2.8" height="3.0" fill="#fff"/>
<path d="M120.7,490.3 v3.0 h-2.5 Z" fill="#0a0a0a" opacity="0.85"/>
<rect x="123.3" y="484.5" width="2.8" height="3.3" fill="#fff"/>
<rect x="123.3" y="489.7" width="2.8" height="3.0" fill="#fff"/>
<path d="M126.1,489.7 v3.0 h-2.5 Z" fill="#0a0a0a" opacity="0.85"/>
<path d="M132.8,482.3 L146.0,480.8 L146.0,492.0 L132.8,493.5 Z" fill="#0a0a0a"/>
<path d="M131.6,494.4 L147.2,492.9" stroke="#0a0a0a" stroke-width="1.7" fill="none"/>
<rect x="134.5" y="483.2" width="3.2" height="3.3" fill="#fff"/>
<rect x="134.5" y="488.4" width="3.2" height="3.0" fill="#fff"/>
<path d="M137.7,488.4 v3.0 h-2.9 Z" fill="#0a0a0a" opacity="0.85"/>
<rect x="140.3" y="482.5" width="3.2" height="3.3" fill="#fff"/>
<rect x="140.3" y="487.7" width="3.2" height="3.0" fill="#fff"/>
<path d="M143.5,487.7 v3.0 h-2.9 Z" fill="#0a0a0a" opacity="0.85"/>
<path d="M64.5,508.3 L82.4,507.0 L82.4,518.2 L64.5,519.5 Z" fill="#0a0a0a"/>
<path d="M63.3,520.4 L83.6,519.1" stroke="#0a0a0a" stroke-width="1.7" fill="none"/>
<rect x="66.2" y="509.3" width="2.8" height="3.3" fill="#fff"/>
<rect x="66.2" y="514.5" width="2.8" height="3.0" fill="#fff"/>
<path d="M69.0,514.5 v3.0 h-2.6 Z" fill="#0a0a0a" opacity="0.85"/>
<rect x="71.6" y="508.9" width="2.8" height="3.3" fill="#fff"/>
<rect x="71.6" y="514.1" width="2.8" height="3.0" fill="#fff"/>
<path d="M74.5,514.1 v3.0 h-2.6 Z" fill="#0a0a0a" opacity="0.85"/>
<rect x="77.1" y="508.5" width="2.8" height="3.3" fill="#fff"/>
<rect x="77.1" y="513.7" width="2.8" height="3.0" fill="#fff"/>
<path d="M79.9,513.7 v3.0 h-2.6 Z" fill="#0a0a0a" opacity="0.85"/>
<path d="M87.7,506.6 L105.5,505.3 L105.5,516.5 L87.7,517.8 Z" fill="#0a0a0a"/>
<path d="M86.5,518.7 L106.7,517.4" stroke="#0a0a0a" stroke-width="1.7" fill="none"/>
<rect x="89.4" y="507.6" width="2.8" height="3.3" fill="#fff"/>
<rect x="89.4" y="512.8" width="2.8" height="3.0" fill="#fff"/>
<path d="M92.2,512.8 v3.0 h-2.5 Z" fill="#0a0a0a" opacity="0.85"/>
<rect x="94.8" y="507.2" width="2.8" height="3.3" fill="#fff"/>
<rect x="94.8" y="512.4" width="2.8" height="3.0" fill="#fff"/>
<path d="M97.6,512.4 v3.0 h-2.5 Z" fill="#0a0a0a" opacity="0.85"/>
<rect x="100.2" y="506.8" width="2.8" height="3.3" fill="#fff"/>
<rect x="100.2" y="512.0" width="2.8" height="3.0" fill="#fff"/>
<path d="M103.0,512.0 v3.0 h-2.5 Z" fill="#0a0a0a" opacity="0.85"/>
<path d="M110.8,504.9 L128.6,503.6 L128.6,514.8 L110.8,516.1 Z" fill="#0a0a0a"/>
<path d="M109.6,517.0 L129.8,515.7" stroke="#0a0a0a" stroke-width="1.7" fill="none"/>
<rect x="112.5" y="505.9" width="2.8" height="3.3" fill="#fff"/>
<rect x="112.5" y="511.1" width="2.8" height="3.0" fill="#fff"/>
<path d="M115.3,511.1 v3.0 h-2.5 Z" fill="#0a0a0a" opacity="0.85"/>
<rect x="117.9" y="505.5" width="2.8" height="3.3" fill="#fff"/>
<rect x="117.9" y="510.7" width="2.8" height="3.0" fill="#fff"/>
<path d="M120.7,510.7 v3.0 h-2.5 Z" fill="#0a0a0a" opacity="0.85"/>
<rect x="123.3" y="505.1" width="2.8" height="3.3" fill="#fff"/>
<rect x="123.3" y="510.3" width="2.8" height="3.0" fill="#fff"/>
<path d="M126.1,510.3 v3.0 h-2.5 Z" fill="#0a0a0a" opacity="0.85"/>
<path d="M132.8,503.3 L146.0,502.3 L146.0,513.5 L132.8,514.5 Z" fill="#0a0a0a"/>
<path d="M131.6,515.4 L147.2,514.4" stroke="#0a0a0a" stroke-width="1.7" fill="none"/>
<rect x="134.5" y="504.3" width="3.2" height="3.3" fill="#fff"/>
<rect x="134.5" y="509.5" width="3.2" height="3.0" fill="#fff"/>
<path d="M137.7,509.5 v3.0 h-2.9 Z" fill="#0a0a0a" opacity="0.85"/>
<rect x="140.3" y="503.9" width="3.2" height="3.3" fill="#fff"/>
<rect x="140.3" y="509.1" width="3.2" height="3.0" fill="#fff"/>
<path d="M143.5,509.1 v3.0 h-2.9 Z" fill="#0a0a0a" opacity="0.85"/>
<path d="M64.5,526.4 L82.4,525.6 L82.4,536.8 L64.5,537.6 Z" fill="#0a0a0a"/>
<path d="M63.3,538.5 L83.6,537.7" stroke="#0a0a0a" stroke-width="1.7" fill="none"/>
<rect x="66.2" y="527.5" width="2.8" height="3.3" fill="#fff"/>
<rect x="66.2" y="532.7" width="2.8" height="3.0" fill="#fff"/>
<path d="M69.0,532.7 v3.0 h-2.6 Z" fill="#0a0a0a" opacity="0.85"/>
<rect x="71.6" y="527.3" width="2.8" height="3.3" fill="#fff"/>
<rect x="71.6" y="532.5" width="2.8" height="3.0" fill="#fff"/>
<path d="M74.5,532.5 v3.0 h-2.6 Z" fill="#0a0a0a" opacity="0.85"/>
<rect x="77.1" y="527.0" width="2.8" height="3.3" fill="#fff"/>
<rect x="77.1" y="532.2" width="2.8" height="3.0" fill="#fff"/>
<path d="M79.9,532.2 v3.0 h-2.6 Z" fill="#0a0a0a" opacity="0.85"/>
<path d="M87.7,525.3 L105.5,524.4 L105.5,535.6 L87.7,536.5 Z" fill="#0a0a0a"/>
<path d="M86.5,537.4 L106.7,536.5" stroke="#0a0a0a" stroke-width="1.7" fill="none"/>
<rect x="89.4" y="526.4" width="2.8" height="3.3" fill="#fff"/>
<rect x="89.4" y="531.6" width="2.8" height="3.0" fill="#fff"/>
<path d="M92.2,531.6 v3.0 h-2.5 Z" fill="#0a0a0a" opacity="0.85"/>
<rect x="94.8" y="526.2" width="2.8" height="3.3" fill="#fff"/>
<rect x="94.8" y="531.4" width="2.8" height="3.0" fill="#fff"/>
<path d="M97.6,531.4 v3.0 h-2.5 Z" fill="#0a0a0a" opacity="0.85"/>
<rect x="100.2" y="525.9" width="2.8" height="3.3" fill="#fff"/>
<rect x="100.2" y="531.1" width="2.8" height="3.0" fill="#fff"/>
<path d="M103.0,531.1 v3.0 h-2.5 Z" fill="#0a0a0a" opacity="0.85"/>
<path d="M110.8,524.2 L128.6,523.3 L128.6,534.5 L110.8,535.4 Z" fill="#0a0a0a"/>
<path d="M109.6,536.3 L129.8,535.4" stroke="#0a0a0a" stroke-width="1.7" fill="none"/>
<rect x="112.5" y="525.3" width="2.8" height="3.3" fill="#fff"/>
<rect x="112.5" y="530.5" width="2.8" height="3.0" fill="#fff"/>
<path d="M115.3,530.5 v3.0 h-2.5 Z" fill="#0a0a0a" opacity="0.85"/>
<rect x="117.9" y="525.0" width="2.8" height="3.3" fill="#fff"/>
<rect x="117.9" y="530.2" width="2.8" height="3.0" fill="#fff"/>
<path d="M120.7,530.2 v3.0 h-2.5 Z" fill="#0a0a0a" opacity="0.85"/>
<rect x="123.3" y="524.8" width="2.8" height="3.3" fill="#fff"/>
<rect x="123.3" y="530.0" width="2.8" height="3.0" fill="#fff"/>
<path d="M126.1,530.0 v3.0 h-2.5 Z" fill="#0a0a0a" opacity="0.85"/>
<path d="M132.8,523.1 L146.0,522.5 L146.0,533.7 L132.8,534.3 Z" fill="#0a0a0a"/>
<path d="M131.6,535.2 L147.2,534.6" stroke="#0a0a0a" stroke-width="1.7" fill="none"/>
<rect x="134.5" y="524.2" width="3.2" height="3.3" fill="#fff"/>
<rect x="134.5" y="529.4" width="3.2" height="3.0" fill="#fff"/>
<path d="M137.7,529.4 v3.0 h-2.9 Z" fill="#0a0a0a" opacity="0.85"/>
<rect x="140.3" y="523.9" width="3.2" height="3.3" fill="#fff"/>
<rect x="140.3" y="529.1" width="3.2" height="3.0" fill="#fff"/>
<path d="M143.5,529.1 v3.0 h-2.9 Z" fill="#0a0a0a" opacity="0.85"/>
<path d="M64.5,544.7 L82.4,544.3 L82.4,555.5 L64.5,555.9 Z" fill="#0a0a0a"/>
<path d="M63.3,556.8 L83.6,556.4" stroke="#0a0a0a" stroke-width="1.7" fill="none"/>
<rect x="66.2" y="545.9" width="2.8" height="3.3" fill="#fff"/>
<rect x="66.2" y="551.1" width="2.8" height="3.0" fill="#fff"/>
<path d="M69.0,551.1 v3.0 h-2.6 Z" fill="#0a0a0a" opacity="0.85"/>
<rect x="71.6" y="545.8" width="2.8" height="3.3" fill="#fff"/>
<rect x="71.6" y="551.0" width="2.8" height="3.0" fill="#fff"/>
<path d="M74.5,551.0 v3.0 h-2.6 Z" fill="#0a0a0a" opacity="0.85"/>
<rect x="77.1" y="545.7" width="2.8" height="3.3" fill="#fff"/>
<rect x="77.1" y="550.9" width="2.8" height="3.0" fill="#fff"/>
<path d="M79.9,550.9 v3.0 h-2.6 Z" fill="#0a0a0a" opacity="0.85"/>
<path d="M87.7,544.2 L105.5,543.9 L105.5,555.1 L87.7,555.4 Z" fill="#0a0a0a"/>
<path d="M86.5,556.3 L106.7,556.0" stroke="#0a0a0a" stroke-width="1.7" fill="none"/>
<rect x="89.4" y="545.5" width="2.8" height="3.3" fill="#fff"/>
<rect x="89.4" y="550.7" width="2.8" height="3.0" fill="#fff"/>
<path d="M92.2,550.7 v3.0 h-2.5 Z" fill="#0a0a0a" opacity="0.85"/>
<rect x="94.8" y="545.4" width="2.8" height="3.3" fill="#fff"/>
<rect x="94.8" y="550.6" width="2.8" height="3.0" fill="#fff"/>
<path d="M97.6,550.6 v3.0 h-2.5 Z" fill="#0a0a0a" opacity="0.85"/>
<rect x="100.2" y="545.3" width="2.8" height="3.3" fill="#fff"/>
<rect x="100.2" y="550.5" width="2.8" height="3.0" fill="#fff"/>
<path d="M103.0,550.5 v3.0 h-2.5 Z" fill="#0a0a0a" opacity="0.85"/>
<path d="M110.8,543.8 L128.6,543.5 L128.6,554.7 L110.8,555.0 Z" fill="#0a0a0a"/>
<path d="M109.6,555.9 L129.8,555.6" stroke="#0a0a0a" stroke-width="1.7" fill="none"/>
<rect x="112.5" y="545.0" width="2.8" height="3.3" fill="#fff"/>
<rect x="112.5" y="550.2" width="2.8" height="3.0" fill="#fff"/>
<path d="M115.3,550.2 v3.0 h-2.5 Z" fill="#0a0a0a" opacity="0.85"/>
<rect x="117.9" y="545.0" width="2.8" height="3.3" fill="#fff"/>
<rect x="117.9" y="550.2" width="2.8" height="3.0" fill="#fff"/>
<path d="M120.7,550.2 v3.0 h-2.5 Z" fill="#0a0a0a" opacity="0.85"/>
<rect x="123.3" y="544.9" width="2.8" height="3.3" fill="#fff"/>
<rect x="123.3" y="550.1" width="2.8" height="3.0" fill="#fff"/>
<path d="M126.1,550.1 v3.0 h-2.5 Z" fill="#0a0a0a" opacity="0.85"/>
<path d="M132.8,543.4 L146.0,543.2 L146.0,554.4 L132.8,554.6 Z" fill="#0a0a0a"/>
<path d="M131.6,555.5 L147.2,555.3" stroke="#0a0a0a" stroke-width="1.7" fill="none"/>
<rect x="134.5" y="544.6" width="3.2" height="3.3" fill="#fff"/>
<rect x="134.5" y="549.8" width="3.2" height="3.0" fill="#fff"/>
<path d="M137.7,549.8 v3.0 h-2.9 Z" fill="#0a0a0a" opacity="0.85"/>
<rect x="140.3" y="544.5" width="3.2" height="3.3" fill="#fff"/>
<rect x="140.3" y="549.7" width="3.2" height="3.0" fill="#fff"/>
<path d="M143.5,549.7 v3.0 h-2.9 Z" fill="#0a0a0a" opacity="0.85"/>
<path d="M60,541 L152.5,540.2" stroke="#0a0a0a" stroke-width="1.6" fill="none"/>
<path d="M60,543.6 L152.5,542.8" stroke="#0a0a0a" stroke-width="1.4" fill="none"/>
<rect x="65.2" y="562.4" width="20.5" height="17.4" fill="#0a0a0a"/>
<rect x="67" y="564.6" width="7.6" height="5" fill="#fff"/><rect x="76.4" y="564.6" width="7.6" height="5" fill="#fff"/>
<path d="M67.5,578 l2.5,-5 l2,3 l2,-4 v6 Z M77,578 l2.500,-5 l2,3 l2,-4 v6 Z" fill="#fff" opacity="0.8"/>
<rect x="89" y="564.6" width="19" height="15.2" fill="#0a0a0a"/>
<path d="M91.5,566.5 l1,10 M94,567 l2,8 l2,-7 M100,567 l-1.5,9" stroke="#fff" stroke-width="0.9" fill="none"/>
<rect x="111.5" y="564.6" width="19.2" height="15.2" fill="#0a0a0a"/>
<path d="M114,567 l2,9 l1.500,-8 M120,566.5 l-1,7 M124,568 l-1,6" stroke="#fff" stroke-width="0.9" fill="none"/>
<rect x="132.6" y="562.2" width="18.6" height="17.6" fill="#0a0a0a"/>
<rect x="135.5" y="566" width="13" height="12" fill="#fff" opacity="0.35"/>
<path d="M137,567 v11 M140,567 v11 M143,567 v11 M146,567 v11" stroke="#000" stroke-width="1" fill="none"/>
<path d="M157,422 L172.5,424.4 L172.5,436 L165,431 Z" fill="#0a0a0a"/>
<path d="M164,423.5 l4,7 M167.5,424 l3,7" stroke="#fff" stroke-width="0.8" fill="none"/>
<path d="M172.3,424.3 L191.5,442 L194,442.4 L204.2,453.4 L205.5,460.5 L207,461" stroke="#0a0a0a" stroke-width="2.5" fill="none" stroke-linejoin="round"/>
<path d="M206.8,513 V446.6 Q206.8,443.8 209.2,443.8 Q211.6,443.8 211.6,446.6 V513" stroke="#0a0a0a" stroke-width="1.8" fill="#fff"/>
<path d="M209.2,448 V480 M208.4,486 V512" stroke="#0a0a0a" stroke-width="0.9" fill="none" opacity="0.7"/>
<path d="M159.0,431.0 L169.6,436.0 L169.6,448.0 L159.0,443.0 Z" fill="#0a0a0a"/>
<path d="M158.2,443.4 L170.6,448.8" stroke="#0a0a0a" stroke-width="1.7" fill="none"/>
<rect x="160.6" y="434.1" width="2.7" height="4.2" fill="#fff"/>
<rect x="160.6" y="439.6" width="2.7" height="3.7" fill="#fff" opacity="0.7"/>
<rect x="165.2" y="436.3" width="2.7" height="4.2" fill="#fff"/>
<rect x="165.2" y="441.8" width="2.7" height="3.7" fill="#fff" opacity="0.7"/>
<path d="M159.0,446.7 L169.6,451.7 L169.6,463.7 L159.0,458.7 Z" fill="#0a0a0a"/>
<path d="M158.2,459.1 L170.6,464.5" stroke="#0a0a0a" stroke-width="1.7" fill="none"/>
<rect x="160.6" y="449.8" width="2.7" height="4.2" fill="#fff"/>
<rect x="160.6" y="455.3" width="2.7" height="3.7" fill="#fff" opacity="0.7"/>
<rect x="165.2" y="452.0" width="2.7" height="4.2" fill="#fff"/>
<rect x="165.2" y="457.5" width="2.7" height="3.7" fill="#fff" opacity="0.7"/>
<path d="M159.0,466.0 L169.6,471.0 L169.6,481.5 L159.0,476.5 Z" fill="#0a0a0a"/>
<path d="M158.2,476.9 L170.6,482.3" stroke="#0a0a0a" stroke-width="1.7" fill="none"/>
<rect x="160.6" y="469.1" width="2.7" height="3.5" fill="#fff"/>
<rect x="160.6" y="473.9" width="2.7" height="3.0" fill="#fff" opacity="0.7"/>
<rect x="165.2" y="471.3" width="2.7" height="3.5" fill="#fff"/>
<rect x="165.2" y="476.0" width="2.7" height="3.0" fill="#fff" opacity="0.7"/>
<path d="M159.0,484.4 L169.6,489.4 L169.6,499.9 L159.0,494.9 Z" fill="#0a0a0a"/>
<path d="M158.2,495.3 L170.6,500.7" stroke="#0a0a0a" stroke-width="1.7" fill="none"/>
<rect x="160.6" y="487.5" width="2.7" height="3.5" fill="#fff"/>
<rect x="160.6" y="492.3" width="2.7" height="3.0" fill="#fff" opacity="0.7"/>
<rect x="165.2" y="489.7" width="2.7" height="3.5" fill="#fff"/>
<rect x="165.2" y="494.4" width="2.7" height="3.0" fill="#fff" opacity="0.7"/>
<path d="M174.3,444.7 L179.8,446.2 L179.8,454.7 L174.3,453.2 Z" fill="#0a0a0a"/>
<path d="M173.5,453.6 L180.8,455.5" stroke="#0a0a0a" stroke-width="1.7" fill="none"/>
<rect x="175.9" y="447.1" width="2.2" height="2.5" fill="#fff"/>
<rect x="175.9" y="450.8" width="2.2" height="1.9" fill="#fff" opacity="0.7"/>
<path d="M174.3,460.6 L179.8,462.1 L179.8,470.6 L174.3,469.1 Z" fill="#0a0a0a"/>
<path d="M173.5,469.5 L180.8,471.4" stroke="#0a0a0a" stroke-width="1.7" fill="none"/>
<rect x="175.9" y="463.0" width="2.2" height="2.5" fill="#fff"/>
<rect x="175.9" y="466.7" width="2.2" height="1.9" fill="#fff" opacity="0.7"/>
<path d="M174.3,475.8 L179.8,477.3 L179.8,485.8 L174.3,484.3 Z" fill="#0a0a0a"/>
<path d="M173.5,484.7 L180.8,486.6" stroke="#0a0a0a" stroke-width="1.7" fill="none"/>
<rect x="175.9" y="478.2" width="2.2" height="2.5" fill="#fff"/>
<rect x="175.9" y="481.9" width="2.2" height="1.9" fill="#fff" opacity="0.7"/>
<path d="M174.3,493.0 L179.8,494.5 L179.8,501.5 L174.3,500.0 Z" fill="#0a0a0a"/>
<path d="M173.5,500.4 L180.8,502.3" stroke="#0a0a0a" stroke-width="1.7" fill="none"/>
<rect x="175.9" y="495.4" width="2.2" height="1.7" fill="#fff"/>
<rect x="175.9" y="498.4" width="2.2" height="1.2" fill="#fff" opacity="0.7"/>
<path d="M186.2,454.6 L191.0,456.1 L191.0,465.6 L186.2,464.1 Z" fill="#0a0a0a"/>
<path d="M185.4,464.5 L192.0,466.4" stroke="#0a0a0a" stroke-width="1.7" fill="none"/>
<rect x="187.8" y="457.0" width="1.5" height="3.0" fill="#fff"/>
<rect x="187.8" y="461.2" width="1.5" height="2.5" fill="#fff" opacity="0.7"/>
<path d="M186.2,469.8 L191.0,471.3 L191.0,479.3 L186.2,477.8 Z" fill="#0a0a0a"/>
<path d="M185.4,478.2 L192.0,480.1" stroke="#0a0a0a" stroke-width="1.7" fill="none"/>
<rect x="187.8" y="472.2" width="1.5" height="2.2" fill="#fff"/>
<rect x="187.8" y="475.7" width="1.5" height="1.7" fill="#fff" opacity="0.7"/>
<path d="M186.2,484.4 L191.0,485.9 L191.0,493.4 L186.2,491.9 Z" fill="#0a0a0a"/>
<path d="M185.4,492.3 L192.0,494.2" stroke="#0a0a0a" stroke-width="1.7" fill="none"/>
<rect x="187.8" y="486.8" width="1.5" height="1.9" fill="#fff"/>
<rect x="187.8" y="490.0" width="1.5" height="1.4" fill="#fff" opacity="0.7"/>
<path d="M186.2,499.0 L191.0,500.5 L191.0,506.5 L186.2,505.0 Z" fill="#0a0a0a"/>
<path d="M185.4,505.4 L192.0,507.3" stroke="#0a0a0a" stroke-width="1.7" fill="none"/>
<rect x="187.8" y="501.4" width="1.5" height="1.2" fill="#fff"/>
<rect x="187.8" y="503.9" width="1.5" height="0.7" fill="#fff" opacity="0.7"/>
<path d="M194.8,448.7 L200.2,450.2 L200.2,458.7 L194.8,457.2 Z" fill="#0a0a0a"/>
<path d="M194.0,457.6 L201.2,459.5" stroke="#0a0a0a" stroke-width="1.7" fill="none"/>
<rect x="196.4" y="451.1" width="2.1" height="2.5" fill="#fff"/>
<rect x="196.4" y="454.8" width="2.1" height="1.9" fill="#fff" opacity="0.7"/>
<path d="M194.8,463.9 L200.2,465.4 L200.2,473.9 L194.8,472.4 Z" fill="#0a0a0a"/>
<path d="M194.0,472.8 L201.2,474.7" stroke="#0a0a0a" stroke-width="1.7" fill="none"/>
<rect x="196.4" y="466.3" width="2.1" height="2.5" fill="#fff"/>
<rect x="196.4" y="470.0" width="2.1" height="1.9" fill="#fff" opacity="0.7"/>
<path d="M194.8,477.8 L200.2,479.3 L200.2,486.3 L194.8,484.8 Z" fill="#0a0a0a"/>
<path d="M194.0,485.2 L201.2,487.1" stroke="#0a0a0a" stroke-width="1.7" fill="none"/>
<rect x="196.4" y="480.2" width="2.1" height="1.7" fill="#fff"/>
<rect x="196.4" y="483.2" width="2.1" height="1.2" fill="#fff" opacity="0.7"/>
<path d="M194.8,490.3 L200.2,491.8 L200.2,498.8 L194.8,497.3 Z" fill="#0a0a0a"/>
<path d="M194.0,497.7 L201.2,499.6" stroke="#0a0a0a" stroke-width="1.7" fill="none"/>
<rect x="196.4" y="492.7" width="2.1" height="1.7" fill="#fff"/>
<rect x="196.4" y="495.7" width="2.1" height="1.2" fill="#fff" opacity="0.7"/>
<path d="M160,504 l2,-3 l2,3 M165,504.5 l2.500,-2.500 M176,505 l2,-2 M186,506 l2,-2 M195,505 l3,-2" stroke="#0a0a0a" stroke-width="1.2" fill="none"/>
<path d="M152.5,515.6 L213.7,513.6" stroke="#0a0a0a" stroke-width="3.2" fill="none"/>
<path d="M159.8,521.8 L159.4,533.8" stroke="#0a0a0a" stroke-width="2.1" fill="none"/>
<path d="M158.8,522.3 h6.2 M159.3,527.2 h4.6 M158.2,533.2 h6.6" stroke="#0a0a0a" stroke-width="1.5" fill="none"/>
<path d="M159.8,527.2 l3.7,0 l-3.7,3.6 Z" fill="#0a0a0a" opacity="0.8"/>
<path d="M169.7,521.8 L169.3,533.8" stroke="#0a0a0a" stroke-width="2.1" fill="none"/>
<path d="M168.7,522.3 h6.2 M169.2,527.2 h4.6 M168.1,533.2 h6.6" stroke="#0a0a0a" stroke-width="1.5" fill="none"/>
<path d="M169.7,527.2 l3.7,0 l-3.7,3.6 Z" fill="#0a0a0a" opacity="0.8"/>
<path d="M178.9,521.8 L178.5,533.8" stroke="#0a0a0a" stroke-width="2.1" fill="none"/>
<path d="M177.9,522.3 h6.2 M178.4,527.2 h4.6 M177.3,533.2 h6.6" stroke="#0a0a0a" stroke-width="1.5" fill="none"/>
<path d="M178.9,527.2 l3.7,0 l-3.7,3.6 Z" fill="#0a0a0a" opacity="0.8"/>
<path d="M188.5,521.8 L188.1,533.8" stroke="#0a0a0a" stroke-width="2.1" fill="none"/>
<path d="M187.5,522.3 h6.2 M188.0,527.2 h4.6 M186.9,533.2 h6.6" stroke="#0a0a0a" stroke-width="1.5" fill="none"/>
<path d="M188.5,527.2 l3.7,0 l-3.7,3.6 Z" fill="#0a0a0a" opacity="0.8"/>
<path d="M199.0,521.8 L198.6,533.8" stroke="#0a0a0a" stroke-width="2.1" fill="none"/>
<path d="M198.0,522.3 h8.2 M198.5,527.2 h6.6 M197.4,533.2 h8.6" stroke="#0a0a0a" stroke-width="1.5" fill="none"/>
<path d="M199.0,527.2 l5.7,0 l-5.7,3.6 Z" fill="#0a0a0a" opacity="0.8"/>
<path d="M159.8,538.0 L159.4,550.0" stroke="#0a0a0a" stroke-width="2.1" fill="none"/>
<path d="M158.8,538.5 h6.2 M159.3,543.4 h4.6 M158.2,549.4 h6.6" stroke="#0a0a0a" stroke-width="1.5" fill="none"/>
<path d="M159.8,543.4 l3.7,0 l-3.7,3.6 Z" fill="#0a0a0a" opacity="0.8"/>
<path d="M169.7,538.0 L169.3,550.0" stroke="#0a0a0a" stroke-width="2.1" fill="none"/>
<path d="M168.7,538.5 h6.2 M169.2,543.4 h4.6 M168.1,549.4 h6.6" stroke="#0a0a0a" stroke-width="1.5" fill="none"/>
<path d="M169.7,543.4 l3.7,0 l-3.7,3.6 Z" fill="#0a0a0a" opacity="0.8"/>
<path d="M178.9,538.0 L178.5,550.0" stroke="#0a0a0a" stroke-width="2.1" fill="none"/>
<path d="M177.9,538.5 h6.2 M178.4,543.4 h4.6 M177.3,549.4 h6.6" stroke="#0a0a0a" stroke-width="1.5" fill="none"/>
<path d="M178.9,543.4 l3.7,0 l-3.7,3.6 Z" fill="#0a0a0a" opacity="0.8"/>
<path d="M188.5,538.0 L188.1,550.0" stroke="#0a0a0a" stroke-width="2.1" fill="none"/>
<path d="M187.5,538.5 h6.2 M188.0,543.4 h4.6 M186.9,549.4 h6.6" stroke="#0a0a0a" stroke-width="1.5" fill="none"/>
<path d="M188.5,543.4 l3.7,0 l-3.7,3.6 Z" fill="#0a0a0a" opacity="0.8"/>
<path d="M199.6,538.0 h6.5" stroke="#0a0a0a" stroke-width="1.3" fill="none"/>
<path d="M199.2,538.0 v9.5 l-1.4,3" stroke="#0a0a0a" stroke-width="2.0" fill="none"/>
<path d="M159.8,553.6 L159.4,564.6" stroke="#0a0a0a" stroke-width="2.1" fill="none"/>
<path d="M158.8,554.1 h6.2 M159.3,558.6 h4.6 M158.2,564.0 h6.6" stroke="#0a0a0a" stroke-width="1.5" fill="none"/>
<path d="M159.8,558.6 l3.7,0 l-3.7,3.3 Z" fill="#0a0a0a" opacity="0.8"/>
<path d="M169.7,553.6 L169.3,564.6" stroke="#0a0a0a" stroke-width="2.1" fill="none"/>
<path d="M168.7,554.1 h6.2 M169.2,558.6 h4.6 M168.1,564.0 h6.6" stroke="#0a0a0a" stroke-width="1.5" fill="none"/>
<path d="M169.7,558.6 l3.7,0 l-3.7,3.3 Z" fill="#0a0a0a" opacity="0.8"/>
<path d="M178.9,553.6 L178.5,564.6" stroke="#0a0a0a" stroke-width="2.1" fill="none"/>
<path d="M177.9,554.1 h6.2 M178.4,558.6 h4.6 M177.3,564.0 h6.6" stroke="#0a0a0a" stroke-width="1.5" fill="none"/>
<path d="M178.9,558.6 l3.7,0 l-3.7,3.3 Z" fill="#0a0a0a" opacity="0.8"/>
<path d="M171,569.3 H183 V571.3 H178 Q175.5,574 174.2,579.8 H171 Z" fill="#0a0a0a"/>
</g></g>
<g id="hits">
<defs><filter id="hb" x="-3%" y="-3%" width="106%" height="106%"><feGaussianBlur stdDeviation="0.4"/></filter>
<linearGradient id="reflg" x1="0" y1="0" x2="0" y2="1"><stop offset="0" stop-color="#fff" stop-opacity="0.55"/><stop offset="0.5" stop-color="#fff" stop-opacity="0.85"/><stop offset="1" stop-color="#fff" stop-opacity="1"/></linearGradient>
<linearGradient id="reflf" x1="0" y1="0" x2="0" y2="1"><stop offset="0" stop-color="#b4b4b4"/><stop offset="0.3" stop-color="#d0d0d0"/><stop offset="0.65" stop-color="#ededed"/><stop offset="1" stop-color="#fff"/></linearGradient>
</defs>
<rect x="315" y="427" width="231" height="190" fill="#fff"/>
<g filter="url(#hb)">
<g transform="translate(334.6,571.5) skewY(6.37)">
<rect x="0" y="0" width="103.2" height="38" fill="url(#reflf)"/>
<rect x="10.1" y="7" width="8.1" height="15" fill="#fff" opacity="0.55"/>
<rect x="23.9" y="7" width="8.8" height="15" fill="#fff" opacity="0.55"/>
<rect x="37.6" y="7" width="15.3" height="15" fill="#fff" opacity="0.55"/>
<rect x="58.2" y="7" width="13.2" height="15" fill="#fff" opacity="0.55"/>
<rect x="81.7" y="7" width="15.3" height="15" fill="#fff" opacity="0.55"/>
</g>
<g transform="translate(437.6,583) skewY(-7.1)">
<rect x="0" y="0" width="56.8" height="38" fill="url(#reflf)"/>
<rect x="3.5" y="7" width="16.5" height="15" fill="#fff" opacity="0.55"/>
<rect x="29.9" y="7" width="17.5" height="15" fill="#fff" opacity="0.55"/>
</g>
<g transform="translate(494.4,576.5) skewY(-7.8)">
<rect x="0" y="0" width="31" height="36" fill="url(#reflf)"/>
<rect x="12.6" y="16" width="5.8" height="10" fill="#fff" opacity="0.6"/>
</g>
</g>
<g filter="url(#hb)">
<path d="M469,443 L481.5,439.4 L496,444.5 L496,458 L469,450 Z" fill="#0b0b0b"/>
<path d="M470.5,443.6 L481.5,440.6 L494.5,445.2 M481.5,440.6 V448" stroke="#fff" stroke-width="0.7" fill="none"/>
<path d="M334.6,477.7 L437.6,432.1 L437.6,583.7 L334.6,572.2 Z" fill="#fff"/>
<path d="M437.6,432.1 L493.8,454.9 L493.8,576.7 L437.6,583.7 Z" fill="#fff"/>
<path d="M334.6,477.7 L437.6,432.1 L437.6,441.6 L334.6,482.9 Z" fill="#0b0b0b"/>
<path d="M437.6,432.1 L493.8,454.9 L493.8,463.2 L437.6,441.6 Z" fill="#0b0b0b"/>
<path d="M334.6,496.1 L437.6,462.3 L437.6,467.3 L334.6,498.6 Z" fill="#0b0b0b"/>
<path d="M437.6,462.3 L493.8,480.0 L493.8,483.1 L437.6,467.3 Z" fill="#0b0b0b"/>
<path d="M334.6,510.9 L437.6,487.0 L437.6,496.2 L334.6,516.2 Z" fill="#0b0b0b"/>
<path d="M437.6,487.0 L493.8,500.2 L493.8,506.8 L437.6,496.2 Z" fill="#0b0b0b"/>
<path d="M334.6,528.2 L437.6,517.0 L437.6,521.0 L334.6,531.7 Z" fill="#0b0b0b"/>
<path d="M437.6,517.0 L493.8,523.2 L493.8,525.8 L437.6,521.0 Z" fill="#0b0b0b"/>
<path d="M334.6,544.0 L437.6,541.4 L437.6,551.1 L334.6,551.1 Z" fill="#0b0b0b"/>
<path d="M437.6,541.4 L493.8,542.0 L493.8,550.3 L437.6,551.1 Z" fill="#0b0b0b"/>
<path d="M334.6,565.2 L437.6,574.0 L437.6,583.7 L334.6,572.2 Z" fill="#0b0b0b"/>
<path d="M437.6,574.0 L493.8,570.0 L493.8,576.7 L437.6,583.7 Z" fill="#0b0b0b"/>
<line x1="339.7" y1="480.9" x2="339.7" y2="494.4" stroke="#0b0b0b" stroke-width="1.05"/>
<line x1="344.5" y1="478.9" x2="344.5" y2="492.9" stroke="#0b0b0b" stroke-width="1.05"/>
<line x1="349.7" y1="476.8" x2="349.7" y2="491.1" stroke="#0b0b0b" stroke-width="1.05"/>
<line x1="355.8" y1="474.4" x2="355.8" y2="489.1" stroke="#0b0b0b" stroke-width="1.05"/>
<line x1="361.7" y1="472.0" x2="361.7" y2="487.2" stroke="#0b0b0b" stroke-width="1.05"/>
<line x1="367.6" y1="469.7" x2="367.6" y2="485.3" stroke="#0b0b0b" stroke-width="1.05"/>
<line x1="374.2" y1="467.0" x2="374.2" y2="483.1" stroke="#0b0b0b" stroke-width="1.05"/>
<line x1="381.6" y1="464.1" x2="381.6" y2="480.7" stroke="#0b0b0b" stroke-width="1.05"/>
<line x1="388.9" y1="461.1" x2="388.9" y2="478.3" stroke="#0b0b0b" stroke-width="1.05"/>
<line x1="397.0" y1="457.9" x2="397.0" y2="475.6" stroke="#0b0b0b" stroke-width="1.05"/>
<line x1="405.8" y1="454.4" x2="405.8" y2="472.7" stroke="#0b0b0b" stroke-width="1.05"/>
<line x1="415.3" y1="450.5" x2="415.3" y2="469.6" stroke="#0b0b0b" stroke-width="1.05"/>
<line x1="426.4" y1="446.1" x2="426.4" y2="466.0" stroke="#0b0b0b" stroke-width="1.05"/>
<line x1="334.6" y1="489.2" x2="437.6" y2="451.7" stroke="#0b0b0b" stroke-width="1.0"/>
<line x1="448.3" y1="445.7" x2="448.3" y2="465.7" stroke="#0b0b0b" stroke-width="1.05"/>
<line x1="458.5" y1="449.6" x2="458.5" y2="468.9" stroke="#0b0b0b" stroke-width="1.05"/>
<line x1="468.2" y1="453.4" x2="468.2" y2="471.9" stroke="#0b0b0b" stroke-width="1.05"/>
<line x1="477.5" y1="456.9" x2="477.5" y2="474.9" stroke="#0b0b0b" stroke-width="1.05"/>
<line x1="485.8" y1="460.1" x2="485.8" y2="477.5" stroke="#0b0b0b" stroke-width="1.05"/>
<line x1="437.6" y1="451.7" x2="493.8" y2="471.3" stroke="#0b0b0b" stroke-width="1.0"/>
<line x1="339.7" y1="497.1" x2="339.7" y2="509.7" stroke="#0b0b0b" stroke-width="1.05"/>
<line x1="344.5" y1="495.6" x2="344.5" y2="508.6" stroke="#0b0b0b" stroke-width="1.05"/>
<line x1="349.7" y1="494.0" x2="349.7" y2="507.4" stroke="#0b0b0b" stroke-width="1.05"/>
<line x1="355.8" y1="492.2" x2="355.8" y2="506.0" stroke="#0b0b0b" stroke-width="1.05"/>
<line x1="361.7" y1="490.4" x2="361.7" y2="504.6" stroke="#0b0b0b" stroke-width="1.05"/>
<line x1="367.6" y1="488.6" x2="367.6" y2="503.2" stroke="#0b0b0b" stroke-width="1.05"/>
<line x1="374.2" y1="486.6" x2="374.2" y2="501.7" stroke="#0b0b0b" stroke-width="1.05"/>
<line x1="381.6" y1="484.3" x2="381.6" y2="500.0" stroke="#0b0b0b" stroke-width="1.05"/>
<line x1="388.9" y1="482.1" x2="388.9" y2="498.3" stroke="#0b0b0b" stroke-width="1.05"/>
<line x1="397.0" y1="479.6" x2="397.0" y2="496.4" stroke="#0b0b0b" stroke-width="1.05"/>
<line x1="405.8" y1="477.0" x2="405.8" y2="494.4" stroke="#0b0b0b" stroke-width="1.05"/>
<line x1="415.3" y1="474.1" x2="415.3" y2="492.2" stroke="#0b0b0b" stroke-width="1.05"/>
<line x1="426.4" y1="470.7" x2="426.4" y2="489.6" stroke="#0b0b0b" stroke-width="1.05"/>
<line x1="334.6" y1="504.4" x2="437.6" y2="476.8" stroke="#0b0b0b" stroke-width="1.0"/>
<line x1="448.3" y1="470.3" x2="448.3" y2="489.5" stroke="#0b0b0b" stroke-width="1.05"/>
<line x1="458.5" y1="473.2" x2="458.5" y2="491.9" stroke="#0b0b0b" stroke-width="1.05"/>
<line x1="468.2" y1="475.9" x2="468.2" y2="494.2" stroke="#0b0b0b" stroke-width="1.05"/>
<line x1="477.5" y1="478.5" x2="477.5" y2="496.4" stroke="#0b0b0b" stroke-width="1.05"/>
<line x1="485.8" y1="480.9" x2="485.8" y2="498.3" stroke="#0b0b0b" stroke-width="1.05"/>
<line x1="437.6" y1="476.8" x2="493.8" y2="491.3" stroke="#0b0b0b" stroke-width="1.0"/>
<line x1="339.7" y1="515.2" x2="339.7" y2="527.6" stroke="#0b0b0b" stroke-width="1.05"/>
<line x1="344.5" y1="514.3" x2="344.5" y2="527.1" stroke="#0b0b0b" stroke-width="1.05"/>
<line x1="349.7" y1="513.3" x2="349.7" y2="526.6" stroke="#0b0b0b" stroke-width="1.05"/>
<line x1="355.8" y1="512.1" x2="355.8" y2="525.9" stroke="#0b0b0b" stroke-width="1.05"/>
<line x1="361.7" y1="510.9" x2="361.7" y2="525.3" stroke="#0b0b0b" stroke-width="1.05"/>
<line x1="367.6" y1="509.8" x2="367.6" y2="524.6" stroke="#0b0b0b" stroke-width="1.05"/>
<line x1="374.2" y1="508.5" x2="374.2" y2="523.9" stroke="#0b0b0b" stroke-width="1.05"/>
<line x1="381.6" y1="507.1" x2="381.6" y2="523.1" stroke="#0b0b0b" stroke-width="1.05"/>
<line x1="388.9" y1="505.7" x2="388.9" y2="522.3" stroke="#0b0b0b" stroke-width="1.05"/>
<line x1="397.0" y1="504.1" x2="397.0" y2="521.4" stroke="#0b0b0b" stroke-width="1.05"/>
<line x1="405.8" y1="502.4" x2="405.8" y2="520.5" stroke="#0b0b0b" stroke-width="1.05"/>
<line x1="415.3" y1="500.5" x2="415.3" y2="519.4" stroke="#0b0b0b" stroke-width="1.05"/>
<line x1="426.4" y1="498.4" x2="426.4" y2="518.2" stroke="#0b0b0b" stroke-width="1.05"/>
<line x1="334.6" y1="521.9" x2="437.6" y2="506.3" stroke="#0b0b0b" stroke-width="1.0"/>
<line x1="448.3" y1="498.2" x2="448.3" y2="518.2" stroke="#0b0b0b" stroke-width="1.05"/>
<line x1="458.5" y1="500.1" x2="458.5" y2="519.3" stroke="#0b0b0b" stroke-width="1.05"/>
<line x1="468.2" y1="502.0" x2="468.2" y2="520.4" stroke="#0b0b0b" stroke-width="1.05"/>
<line x1="477.5" y1="503.7" x2="477.5" y2="521.4" stroke="#0b0b0b" stroke-width="1.05"/>
<line x1="485.8" y1="505.3" x2="485.8" y2="522.3" stroke="#0b0b0b" stroke-width="1.05"/>
<line x1="437.6" y1="506.3" x2="493.8" y2="514.7" stroke="#0b0b0b" stroke-width="1.0"/>
<path d="M339.4,531.0 L344.7,530.4 L344.7,543.9 L339.4,544.1 Z" fill="#0b0b0b"/>
<path d="M352.8,529.6 L358.5,529.0 L358.5,543.6 L352.8,543.7 Z" fill="#0b0b0b"/>
<path d="M367.3,528.1 L374.7,527.3 L374.7,543.2 L367.3,543.4 Z" fill="#0b0b0b"/>
<path d="M384.9,526.3 L392.8,525.4 L392.8,542.7 L384.9,542.9 Z" fill="#0b0b0b"/>
<path d="M406.1,524.1 L416.3,523.0 L416.3,542.1 L406.1,542.4 Z" fill="#0b0b0b"/>
<path d="M431.6,521.4 L437.2,520.8 L437.2,541.6 L431.6,541.8 Z" fill="#0b0b0b"/>
<line x1="347.4" y1="530.4" x2="347.4" y2="543.7" stroke="#222" stroke-width="0.8"/>
<line x1="350.1" y1="530.1" x2="350.1" y2="543.6" stroke="#222" stroke-width="0.8"/>
<line x1="344.7" y1="535.0" x2="352.8" y2="534.4" stroke="#222" stroke-width="0.75"/>
<line x1="344.7" y1="539.4" x2="352.8" y2="539.0" stroke="#222" stroke-width="0.75"/>
<line x1="361.4" y1="528.9" x2="361.4" y2="543.3" stroke="#222" stroke-width="0.8"/>
<line x1="364.4" y1="528.6" x2="364.4" y2="543.2" stroke="#222" stroke-width="0.8"/>
<line x1="358.5" y1="533.9" x2="367.3" y2="533.3" stroke="#222" stroke-width="0.75"/>
<line x1="358.5" y1="538.7" x2="367.3" y2="538.2" stroke="#222" stroke-width="0.75"/>
<line x1="378.1" y1="527.2" x2="378.1" y2="542.9" stroke="#222" stroke-width="0.8"/>
<line x1="381.5" y1="526.8" x2="381.5" y2="542.8" stroke="#222" stroke-width="0.8"/>
<line x1="374.7" y1="532.7" x2="384.9" y2="531.9" stroke="#222" stroke-width="0.75"/>
<line x1="374.7" y1="537.8" x2="384.9" y2="537.3" stroke="#222" stroke-width="0.75"/>
<line x1="397.2" y1="525.2" x2="397.2" y2="542.4" stroke="#222" stroke-width="0.8"/>
<line x1="401.7" y1="524.7" x2="401.7" y2="542.3" stroke="#222" stroke-width="0.8"/>
<line x1="392.8" y1="531.3" x2="406.1" y2="530.2" stroke="#222" stroke-width="0.75"/>
<line x1="392.8" y1="536.9" x2="406.1" y2="536.2" stroke="#222" stroke-width="0.75"/>
<line x1="421.4" y1="522.7" x2="421.4" y2="541.8" stroke="#222" stroke-width="0.8"/>
<line x1="426.5" y1="522.2" x2="426.5" y2="541.7" stroke="#222" stroke-width="0.8"/>
<line x1="416.3" y1="529.5" x2="431.6" y2="528.3" stroke="#222" stroke-width="0.75"/>
<line x1="416.3" y1="535.7" x2="431.6" y2="534.9" stroke="#222" stroke-width="0.75"/>
<path d="M339.4,550.9 L344.7,550.9 L344.7,566.3 L339.4,565.8 Z" fill="#0b0b0b"/>
<path d="M352.8,550.9 L358.5,550.9 L358.5,567.4 L352.8,567.0 Z" fill="#0b0b0b"/>
<path d="M367.3,550.9 L371.7,550.9 L371.7,568.6 L367.3,568.2 Z" fill="#0b0b0b"/>
<path d="M388.1,550.9 L392.8,550.9 L392.8,570.4 L388.1,570.0 Z" fill="#0b0b0b"/>
<path d="M406.1,550.9 L416.3,550.9 L416.3,572.4 L406.1,571.5 Z" fill="#0b0b0b"/>
<path d="M431.6,550.9 L437.2,550.9 L437.2,574.2 L431.6,573.7 Z" fill="#0b0b0b"/>
<line x1="347.4" y1="551.1" x2="347.4" y2="566.3" stroke="#222" stroke-width="0.8"/>
<line x1="350.1" y1="551.1" x2="350.1" y2="566.5" stroke="#222" stroke-width="0.8"/>
<line x1="344.7" y1="556.1" x2="352.8" y2="556.3" stroke="#222" stroke-width="0.75"/>
<line x1="344.7" y1="561.1" x2="352.8" y2="561.5" stroke="#222" stroke-width="0.75"/>
<line x1="361.4" y1="551.1" x2="361.4" y2="567.5" stroke="#222" stroke-width="0.8"/>
<line x1="364.4" y1="551.1" x2="364.4" y2="567.7" stroke="#222" stroke-width="0.8"/>
<line x1="358.5" y1="556.5" x2="367.3" y2="556.7" stroke="#222" stroke-width="0.75"/>
<line x1="358.5" y1="561.9" x2="367.3" y2="562.4" stroke="#222" stroke-width="0.75"/>
<line x1="397.2" y1="551.1" x2="397.2" y2="570.6" stroke="#222" stroke-width="0.8"/>
<line x1="401.7" y1="551.1" x2="401.7" y2="570.9" stroke="#222" stroke-width="0.8"/>
<line x1="392.8" y1="557.5" x2="406.1" y2="557.8" stroke="#222" stroke-width="0.75"/>
<line x1="392.8" y1="563.8" x2="406.1" y2="564.6" stroke="#222" stroke-width="0.75"/>
<line x1="421.4" y1="551.1" x2="421.4" y2="572.6" stroke="#222" stroke-width="0.8"/>
<line x1="426.5" y1="551.1" x2="426.5" y2="573.1" stroke="#222" stroke-width="0.8"/>
<line x1="416.3" y1="558.1" x2="431.6" y2="558.6" stroke="#222" stroke-width="0.75"/>
<line x1="416.3" y1="565.2" x2="431.6" y2="566.0" stroke="#222" stroke-width="0.75"/>
<line x1="379.3" y1="551.1" x2="379.3" y2="569.0" stroke="#777" stroke-width="0.7"/>
<path d="M438.1,520.8 L441.1,521.1 L441.1,541.6 L438.1,541.6 Z" fill="#0b0b0b"/>
<path d="M457.6,522.5 L467.5,523.4 L467.5,541.9 L457.6,541.8 Z" fill="#0b0b0b"/>
<path d="M485.0,524.8 L494.9,525.7 L494.9,542.2 L485.0,542.1 Z" fill="#0b0b0b"/>
<line x1="445.2" y1="521.6" x2="445.2" y2="541.5" stroke="#222" stroke-width="0.8"/>
<line x1="449.3" y1="522.0" x2="449.3" y2="541.5" stroke="#222" stroke-width="0.8"/>
<line x1="453.4" y1="522.4" x2="453.4" y2="541.6" stroke="#222" stroke-width="0.8"/>
<line x1="441.1" y1="528.0" x2="457.6" y2="529.0" stroke="#222" stroke-width="0.75"/>
<line x1="441.1" y1="534.7" x2="457.6" y2="535.3" stroke="#222" stroke-width="0.75"/>
<line x1="471.9" y1="523.9" x2="471.9" y2="541.8" stroke="#222" stroke-width="0.8"/>
<line x1="476.2" y1="524.3" x2="476.2" y2="541.8" stroke="#222" stroke-width="0.8"/>
<line x1="480.6" y1="524.7" x2="480.6" y2="541.9" stroke="#222" stroke-width="0.8"/>
<line x1="467.5" y1="529.6" x2="485.0" y2="530.7" stroke="#222" stroke-width="0.75"/>
<line x1="467.5" y1="535.7" x2="485.0" y2="536.3" stroke="#222" stroke-width="0.75"/>
<path d="M438.1,550.9 L441.1,550.9 L441.1,574.0 L438.1,574.2 Z" fill="#0b0b0b"/>
<path d="M457.6,550.6 L467.5,550.5 L467.5,572.1 L457.6,572.8 Z" fill="#0b0b0b"/>
<path d="M485.0,550.2 L494.9,550.1 L494.9,570.1 L485.0,570.8 Z" fill="#0b0b0b"/>
<line x1="445.2" y1="551.0" x2="445.2" y2="573.5" stroke="#222" stroke-width="0.8"/>
<line x1="449.3" y1="550.9" x2="449.3" y2="573.2" stroke="#222" stroke-width="0.8"/>
<line x1="453.4" y1="550.9" x2="453.4" y2="572.9" stroke="#222" stroke-width="0.8"/>
<line x1="441.1" y1="558.6" x2="457.6" y2="558.1" stroke="#222" stroke-width="0.75"/>
<line x1="441.1" y1="566.2" x2="457.6" y2="565.3" stroke="#222" stroke-width="0.75"/>
<line x1="471.9" y1="550.6" x2="471.9" y2="571.6" stroke="#222" stroke-width="0.8"/>
<line x1="476.2" y1="550.6" x2="476.2" y2="571.3" stroke="#222" stroke-width="0.8"/>
<line x1="480.6" y1="550.5" x2="480.6" y2="570.9" stroke="#222" stroke-width="0.8"/>
<line x1="467.5" y1="557.7" x2="485.0" y2="557.2" stroke="#222" stroke-width="0.75"/>
<line x1="467.5" y1="564.8" x2="485.0" y2="563.9" stroke="#222" stroke-width="0.75"/>
<line x1="437.6" y1="432.5" x2="437.6" y2="583.5" stroke="#e8e8e8" stroke-width="1.1"/>
<line x1="437.6" y1="441.6" x2="437.6" y2="462" stroke="#0b0b0b" stroke-width="0.9"/>
<line x1="437.6" y1="467.5" x2="437.6" y2="487" stroke="#0b0b0b" stroke-width="0.9"/>
<line x1="437.6" y1="496.5" x2="437.6" y2="517" stroke="#0b0b0b" stroke-width="0.9"/>
<rect x="494.4" y="443.8" width="5.8" height="133.5" fill="#0b0b0b"/>
<line x1="494.6" y1="446" x2="494.6" y2="577" stroke="#fff" stroke-width="0.8"/>
<line x1="500" y1="446" x2="500" y2="577" stroke="#fff" stroke-width="0.8"/>
<path d="M500.3,450 L525.6,462.3 L525.2,573.4 L500.3,576.8 Z" fill="#0b0b0b"/>
<path d="M500.5,452 L525,464" stroke="#fff" stroke-width="0.7" fill="none"/>
<rect x="507" y="470.8" width="5.8" height="11.8" fill="#fff"/>
<line x1="509.9" y1="470.8" x2="509.9" y2="482.6" stroke="#888" stroke-width="0.6"/>
<rect x="507" y="489.1" width="5.8" height="11.7" fill="#fff"/>
<line x1="509.9" y1="489.1" x2="509.9" y2="500.8" stroke="#888" stroke-width="0.6"/>
<rect x="507" y="507.6" width="5.8" height="11.5" fill="#fff"/>
<line x1="509.9" y1="507.6" x2="509.9" y2="519.1" stroke="#888" stroke-width="0.6"/>
<rect x="507" y="526.2" width="5.8" height="11.1" fill="#fff"/>
<line x1="509.9" y1="526.2" x2="509.9" y2="537.3" stroke="#888" stroke-width="0.6"/>
<rect x="507" y="544.6" width="5.8" height="11.3" fill="#fff"/>
<line x1="509.9" y1="544.6" x2="509.9" y2="555.9" stroke="#888" stroke-width="0.6"/>
<path d="M340.4,463.8 A11.6,9.9 -30.7 0 0 360.3,452.0 Z" fill="#1a1a1a"/>
<circle cx="347.0" cy="453.9" r="1.5" fill="#1a1a1a"/>
<line x1="347.0" y1="453.9" x2="350.4" y2="457.9" stroke="#1a1a1a" stroke-width="0.9"/>
<path d="M356.3,465.9 l-2.6,6 M356.3,465.9 l3,5" stroke="#1a1a1a" stroke-width="1.5" fill="none"/>
<path d="M365.4,449.8 A11.7,10.1 -28.7 0 0 386.0,438.5 Z" fill="#1a1a1a"/>
<circle cx="373.5" cy="440.3" r="1.5" fill="#1a1a1a"/>
<line x1="373.5" y1="440.3" x2="375.7" y2="444.1" stroke="#1a1a1a" stroke-width="0.9"/>
<path d="M381.4,452.4 l-2.6,6 M381.4,452.4 l3,5" stroke="#1a1a1a" stroke-width="1.5" fill="none"/>
<path d="M391.1,439.5 A11.5,9.9 -30.6 0 0 410.9,427.8 Z" fill="#1a1a1a"/>
<circle cx="399.2" cy="429.2" r="1.5" fill="#1a1a1a"/>
<line x1="399.2" y1="429.2" x2="401.0" y2="433.6" stroke="#1a1a1a" stroke-width="0.9"/>
<path d="M406.9,441.6 l-2.6,6 M406.9,441.6 l3,5" stroke="#1a1a1a" stroke-width="1.5" fill="none"/>
<path d="M412.0,424.8 A12.0,10.3 -27.2 0 0 433.4,413.8 Z" fill="#1a1a1a"/>
<circle cx="420.2" cy="415.6" r="1.5" fill="#1a1a1a"/>
<line x1="420.2" y1="415.6" x2="422.7" y2="419.3" stroke="#1a1a1a" stroke-width="0.9"/>
<path d="M428.3,427.9 l-2.6,6 M428.3,427.9 l3,5" stroke="#1a1a1a" stroke-width="1.5" fill="none"/>
</g>
</g>
<g id="hotel">
<defs><filter id="hob" x="-3%" y="-3%" width="106%" height="106%"><feGaussianBlur stdDeviation="0.4"/></filter></defs>
<g filter="url(#hob)" stroke-linejoin="round" stroke-linecap="round">
<path d="M779.3,422.3 L816.0,413.0 L816.0,515.6 L787.4,515.6 L786.7,491.8 Z" fill="#fff" stroke="#080808" stroke-width="1.8"/>
<path d="M816.0,413.0 L849.3,428.6 L846.4,450.0 L842.5,490.5 L842.5,496.0 L816.0,515.6 Z" fill="#080808" stroke="#080808" stroke-width="1.2"/>
<path d="M819.2,417.8 L825.5,418.8 L825.5,431.2 L819.2,430.1 Z" fill="#fff"/>
<path d="M827.9,422.0 L834.4,423.3 L834.4,434.7 L827.9,433.4 Z" fill="#fff"/>
<path d="M836.1,426.6 L844.0,428.2 L844.0,438.2 L836.1,436.7 Z" fill="#fff"/>
<path d="M840.0,429.3 L840.8,436.5" stroke="#080808" stroke-width="1.2" fill="none"/>
<path d="M819.2,434.6 L844.7,443.8" stroke="#fff" stroke-width="1.1" fill="none"/>
<ellipse cx="823.1" cy="448.7" rx="1.25" ry="3.0" fill="#fff"/>
<ellipse cx="829.2" cy="449.5" rx="1.25" ry="3.0" fill="#fff"/>
<ellipse cx="835.0" cy="450.3" rx="1.25" ry="3.0" fill="#fff"/>
<ellipse cx="840.0" cy="451.1" rx="1.25" ry="3.0" fill="#fff"/>
<ellipse cx="822.3" cy="461.6" rx="1.25" ry="3.0" fill="#fff"/>
<ellipse cx="828.4" cy="462.4" rx="1.25" ry="3.0" fill="#fff"/>
<ellipse cx="834.2" cy="463.2" rx="1.25" ry="3.0" fill="#fff"/>
<ellipse cx="839.0" cy="464.0" rx="1.25" ry="3.0" fill="#fff"/>
<ellipse cx="821.5" cy="472.5" rx="1.25" ry="3.0" fill="#fff"/>
<ellipse cx="827.6" cy="473.3" rx="1.25" ry="3.0" fill="#fff"/>
<ellipse cx="833.2" cy="474.1" rx="1.25" ry="3.0" fill="#fff"/>
<ellipse cx="837.9" cy="474.9" rx="1.25" ry="3.0" fill="#fff"/>
<ellipse cx="821.9" cy="473.0" rx="1.2" ry="2.9" fill="#fff"/>
<ellipse cx="827.9" cy="473.3" rx="1.2" ry="2.9" fill="#fff"/>
<ellipse cx="833.6" cy="473.6" rx="1.2" ry="2.9" fill="#fff"/>
<ellipse cx="838.1" cy="473.9" rx="1.2" ry="2.9" fill="#fff"/>
<ellipse cx="821.6" cy="485.6" rx="1.2" ry="2.9" fill="#fff"/>
<ellipse cx="827.5" cy="485.8" rx="1.2" ry="2.9" fill="#fff"/>
<ellipse cx="833.0" cy="486.1" rx="1.2" ry="2.9" fill="#fff"/>
<ellipse cx="837.5" cy="486.4" rx="1.2" ry="2.9" fill="#fff"/>
<ellipse cx="791.1" cy="451.1" rx="1.9" ry="3.2" fill="#080808" transform="rotate(-8 791.1 451.1)"/>
<ellipse cx="799.3" cy="449.2" rx="1.9" ry="3.2" fill="#080808" transform="rotate(-8 799.3 449.2)"/>
<ellipse cx="807.0" cy="447.9" rx="1.9" ry="3.2" fill="#080808" transform="rotate(-8 807.0 447.9)"/>
<ellipse cx="791.9" cy="464.3" rx="1.9" ry="3.2" fill="#080808" transform="rotate(-8 791.9 464.3)"/>
<ellipse cx="800.1" cy="461.9" rx="1.9" ry="3.2" fill="#080808" transform="rotate(-8 800.1 461.9)"/>
<ellipse cx="808.6" cy="460.3" rx="1.9" ry="3.2" fill="#080808" transform="rotate(-8 808.6 460.3)"/>
<ellipse cx="792.3" cy="463.9" rx="1.8" ry="3.2" fill="#080808" transform="rotate(-8 792.3 463.9)"/>
<ellipse cx="800.7" cy="461.9" rx="1.8" ry="3.2" fill="#080808" transform="rotate(-8 800.7 461.9)"/>
<ellipse cx="808.8" cy="460.5" rx="1.8" ry="3.2" fill="#080808" transform="rotate(-8 808.8 460.5)"/>
<ellipse cx="794.0" cy="477.2" rx="1.8" ry="3.2" fill="#080808" transform="rotate(-8 794.0 477.2)"/>
<ellipse cx="802.1" cy="475.8" rx="1.8" ry="3.2" fill="#080808" transform="rotate(-8 802.1 475.8)"/>
<ellipse cx="809.8" cy="474.0" rx="1.8" ry="3.2" fill="#080808" transform="rotate(-8 809.8 474.0)"/>
<ellipse cx="795.1" cy="489.8" rx="1.8" ry="3.2" fill="#080808" transform="rotate(-8 795.1 489.8)"/>
<ellipse cx="802.8" cy="487.9" rx="1.8" ry="3.2" fill="#080808" transform="rotate(-8 802.8 487.9)"/>
<ellipse cx="810.0" cy="487.7" rx="1.8" ry="3.2" fill="#080808" transform="rotate(-8 810.0 487.7)"/>
<ellipse cx="803.5" cy="501.6" rx="1.8" ry="3.2" fill="#080808" transform="rotate(-8 803.5 501.6)"/>
<ellipse cx="810.5" cy="500.9" rx="1.8" ry="3.2" fill="#080808" transform="rotate(-8 810.5 500.9)"/>
<path d="M786.5,441.6 L812.9,434.7" stroke="#080808" stroke-width="1.3" fill="none"/>
<path d="M783.2,404.8 L809.6,393.2 L812.3,412.1 L784.3,418.0 Z" fill="#fff" stroke="#080808" stroke-width="2.3"/>
<rect x="788.1" y="408.2" width="3.2" height="4.6" rx="1.4" fill="#080808"/>
<rect x="796.0" y="405.3" width="3.2" height="4.6" rx="1.4" fill="#080808"/>
<rect x="803.1" y="402.9" width="3.2" height="4.6" rx="1.4" fill="#080808"/>
<path d="M811.6,391.3 L843.3,407.7 L842.0,420.4 L815.6,410.8 Z" fill="#fff" stroke="#080808" stroke-width="2.4"/>
<path d="M809.6,389.0 L812.3,412.1" stroke="#080808" stroke-width="2.6" fill="none"/>
<path d="M820.9,400.2 L821.4,406.8" stroke="#080808" stroke-width="1.8" fill="none"/>
<path d="M829.5,404.8 L830.0,411.4" stroke="#080808" stroke-width="1.8" fill="none"/>
<path d="M837.4,409.1 L837.9,415.7" stroke="#080808" stroke-width="1.8" fill="none"/>
<path d="M816.3,411.4 L849.3,427.0 L849.0,430.6 L816.5,415.1 Z" fill="#080808"/>
<path d="M777.9,422.7 L816.3,413.0" stroke="#080808" stroke-width="2.6" fill="none"/>
<path d="M819.2,413.4 L841.4,423.3" stroke="#fff" stroke-width="0.9" fill="none"/>
<path d="M816.3,413.0 L816.3,515.6" stroke="#080808" stroke-width="2" fill="none"/>
<path d="M818.1,496.7 L859.3,493.2 L859.3,498.5 L841.1,498.8 L841.1,515.6 L817.4,515.6 Z" fill="#080808"/>
<path d="M857.9,493.5 C867.6,491.8 880.2,493.2 886.5,504.7 L880.2,505.0 C877.4,500.2 870.4,498.1 859.3,498.8 Z" fill="#080808"/>
<path d="M821.9,500.5 L826.9,500.5 L826.4,514.2 L821.3,514.2 Z M830.0,501.9 L835.3,501.9 L834.4,514.4 L829.7,514.4 Z" fill="#fff"/>
<path d="M823.0,494.9 L857.9,494.1 L859.3,496.3 L825.8,497.4 Z" fill="#fff" opacity="0.92"/>
<path d="M859.3,497.7 Q862.1,495.2 866.9,494.6" stroke="#fff" stroke-width="0.9" fill="none"/>
<path d="M857.6,498.1 L855.1,517.0 M881.3,504.7 L878.5,515.6" stroke="#080808" stroke-width="2.2" fill="none"/>
<path d="M796.5,517.0 C825.8,516.4 859.3,518.1 888.6,522.5" stroke="#080808" stroke-width="2.2" fill="none"/>
</g>
<text x="785.6" y="437.2" font-size="13.5" font-weight="bold" font-style="italic" textLength="28.5" lengthAdjust="spacingAndGlyphs" transform="rotate(-15 785.6 437.2)" style="fill:#000;font-family:'Liberation Sans',sans-serif">HOTEL</text>
<g id="hospital" fill="#000">
<rect x="647.3" y="565" width="157.8" height="11.3"/>
<path d="M656.3,565.5 V496.7 Q656.3,492.7 660.3,492.7 H692.5 V565.5 Z"/>
<path d="M696.1,565.5 V473.5 Q696.1,468.5 701.1,468.5 H751 Q756,468.5 756,473.5 V565.5 Z"/>
<path d="M759.5,565.5 V492.7 H792.6 Q796.6,492.7 796.6,496.700 V565.5 Z"/>
<g fill="#fff">
<rect x="664.8" y="506.5" width="8.3" height="8"/>
<rect x="664.8" y="520.4" width="8.3" height="8"/>
<rect x="664.8" y="534.3" width="8.3" height="8"/>
<rect x="677.7" y="506.5" width="8.3" height="8"/>
<rect x="677.7" y="520.4" width="8.3" height="8"/>
<rect x="677.7" y="534.3" width="8.3" height="8"/>
<rect x="768.9" y="506.5" width="8.3" height="8"/>
<rect x="768.9" y="520.4" width="8.3" height="8"/>
<rect x="768.9" y="534.3" width="8.3" height="8"/>
<rect x="781.8" y="506.5" width="8.3" height="8"/>
<rect x="781.8" y="520.4" width="8.3" height="8"/>
<rect x="781.8" y="534.3" width="8.3" height="8"/>
<circle cx="726.2" cy="490.7" r="19.8"/>
<rect x="715" y="535.3" width="23.5" height="30"/>
</g>
<rect x="721.3" y="477.8" width="9.9" height="25.2"/>
<rect x="713.8" y="485.7" width="24.7" height="9.9"/>
</g>
</g>
<text x="74.8" y="645.6" font-size="21.5" textLength="62.6" lengthAdjust="spacingAndGlyphs">MDUs</text>
<text x="403.6" y="647.6" font-size="21.5" textLength="45.6" lengthAdjust="spacingAndGlyphs">HITS</text>
<text x="687" y="645.5" font-size="21.5" textLength="187.3" lengthAdjust="spacingAndGlyphs">Hotels, Hospitals…</text>
</svg>
</body>
</html>
